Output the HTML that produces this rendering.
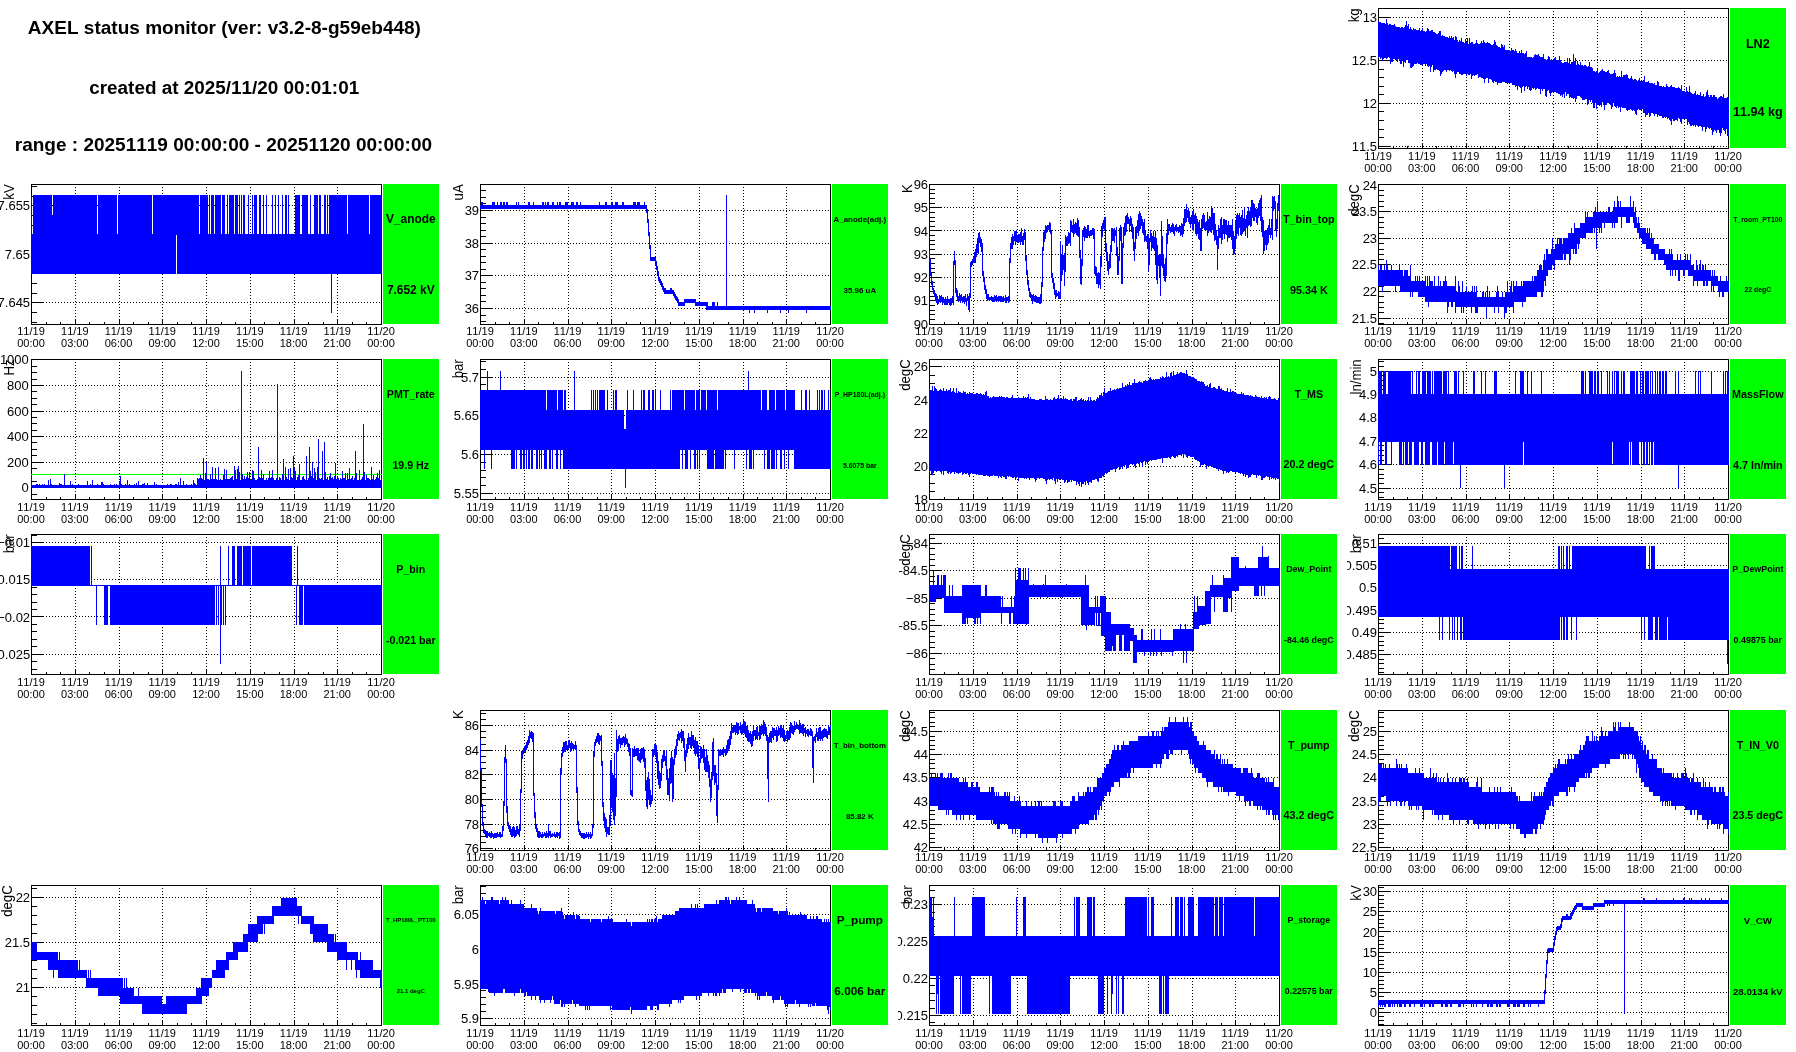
<!DOCTYPE html>
<html><head><meta charset="utf-8"><title>AXEL status monitor</title>
<style>html,body{margin:0;padding:0;background:#fff}svg{display:block;will-change:transform}text{font-family:"Liberation Sans",sans-serif;font-kerning:none}</style></head><body>
<svg width="1796" height="1052" viewBox="0 0 1796 1052">
<rect width="1796" height="1052" fill="#fff"/>
<defs><clipPath id="cp0"><rect x="0" y="0" width="449" height="1052"/></clipPath><clipPath id="cp1"><rect x="449" y="0" width="449" height="1052"/></clipPath><clipPath id="cp2"><rect x="898" y="0" width="449" height="1052"/></clipPath><clipPath id="cp3"><rect x="1347" y="0" width="449" height="1052"/></clipPath></defs>
<g font-weight="bold" font-size="18.9" text-anchor="middle" fill="#000"><text x="224.4" y="33.8" font-size="19.02">AXEL status monitor (ver: v3.2-8-g59eb448)</text><text x="224.2" y="93.8">created at 2025/11/20 00:01:01</text><text x="223.4" y="150.8" font-size="19.0">range : 20251119 00:00:00 - 20251120 00:00:00</text></g>
<g><path d="M1422.5 8V148M1466.5 8V148M1509.5 8V148M1553.5 8V148M1597.5 8V148M1641.5 8V148M1684.5 8V148" stroke="#000" stroke-width="1" stroke-dasharray="1 2" fill="none" shape-rendering="crispEdges"/><path d="M1378 17.5H1728M1378 60.5H1728M1378 103.5H1728M1378 146.5H1728" stroke="#000" stroke-width="1" stroke-dasharray="1 2" fill="none" shape-rendering="crispEdges"/><path d="M1378.5 143V148M1393.5 146V148M1407.5 146V148M1422.5 143V148M1436.5 146V148M1451.5 146V148M1466.5 143V148M1480.5 146V148M1495.5 146V148M1509.5 143V148M1524.5 146V148M1538.5 146V148M1553.5 143V148M1568.5 146V148M1582.5 146V148M1597.5 143V148M1611.5 146V148M1626.5 146V148M1641.5 143V148M1655.5 146V148M1670.5 146V148M1684.5 143V148M1699.5 146V148M1713.5 146V148M1728.5 143V148M1379 17.5H1391M1379 60.5H1391M1379 103.5H1391M1379 146.5H1391M1379 137.5H1384M1379 129.5H1384M1379 120.5H1384M1379 111.5H1384M1379 94.5H1384M1379 86.5H1384M1379 77.5H1384M1379 69.5H1384M1379 51.5H1384M1379 43.5H1384M1379 34.5H1384M1379 26.5H1384" stroke="#000" stroke-width="1" fill="none" shape-rendering="crispEdges"/><rect x="1378.5" y="8.5" width="350" height="140" fill="none" stroke="#000" stroke-width="1" shape-rendering="crispEdges"/><path d="M1386 19h1v40h-1zM1378 21h1v37h-1zM1406 21h1v39h-1zM1379 22h1v35h-1zM1380 22h1v37h-1zM1381 23h1v35h-1zM1384 23h1v35h-1zM1387 23h1v35h-1zM1383 23h1v36h-1zM1382 23h1v38h-1zM1385 24h1v34h-1zM1389 24h1v34h-1zM1394 24h1v35h-1zM1408 24h1v39h-1zM1390 24h1v40h-1zM1388 25h1v32h-1zM1393 25h1v34h-1zM1391 25h2v37h-2zM1405 25h1v38h-1zM1395 26h1v34h-1zM1407 26h1v34h-1zM1398 27h1v32h-1zM1396 27h1v33h-1zM1399 27h1v33h-1zM1402 27h1v34h-1zM1397 27h1v35h-1zM1404 27h1v35h-1zM1401 27h1v37h-1zM1410 27h1v41h-1zM1400 28h1v36h-1zM1419 28h1v36h-1zM1422 28h1v37h-1zM1413 28h1v38h-1zM1427 28h1v38h-1zM1403 28h1v39h-1zM1409 29h1v34h-1zM1414 29h2v35h-2zM1428 29h1v38h-1zM1411 29h1v39h-1zM1417 30h1v33h-1zM1416 30h1v34h-1zM1418 30h1v34h-1zM1421 30h1v35h-1zM1432 30h1v35h-1zM1412 30h1v37h-1zM1431 30h1v37h-1zM1423 31h2v33h-2zM1426 31h1v33h-1zM1420 31h1v34h-1zM1429 31h1v35h-1zM1439 31h1v40h-1zM1430 31h1v41h-1zM1440 31h1v45h-1zM1425 32h1v34h-1zM1434 32h1v38h-1zM1433 32h1v40h-1zM1435 33h1v37h-1zM1438 33h1v37h-1zM1436 34h1v35h-1zM1437 34h1v36h-1zM1442 35h1v37h-1zM1444 36h1v34h-1zM1443 36h1v35h-1zM1449 36h1v35h-1zM1451 36h1v35h-1zM1441 36h1v38h-1zM1455 36h1v42h-1zM1445 37h1v33h-1zM1447 37h1v33h-1zM1453 37h1v34h-1zM1446 37h1v35h-1zM1456 37h1v37h-1zM1448 38h1v32h-1zM1450 38h1v32h-1zM1452 38h1v34h-1zM1467 38h1v36h-1zM1461 38h1v37h-1zM1469 38h1v37h-1zM1465 39h1v35h-1zM1457 40h1v32h-1zM1454 40h1v34h-1zM1459 40h1v34h-1zM1476 40h1v35h-1zM1483 40h1v39h-1zM1494 40h1v41h-1zM1460 41h1v33h-1zM1481 41h1v37h-1zM1458 42h1v30h-1zM1463 42h1v32h-1zM1462 42h1v33h-1zM1466 42h1v34h-1zM1472 42h1v34h-1zM1487 42h1v36h-1zM1471 42h1v37h-1zM1495 42h1v40h-1zM1484 42h1v41h-1zM1464 43h1v31h-1zM1470 43h1v31h-1zM1477 43h1v31h-1zM1475 43h1v32h-1zM1480 43h1v34h-1zM1482 43h1v35h-1zM1486 43h1v35h-1zM1485 43h1v36h-1zM1489 43h1v36h-1zM1488 43h1v40h-1zM1468 44h1v31h-1zM1473 44h1v31h-1zM1474 44h1v32h-1zM1479 44h1v33h-1zM1478 44h1v34h-1zM1490 44h1v35h-1zM1493 44h1v39h-1zM1501 44h1v39h-1zM1491 45h1v35h-1zM1492 45h1v37h-1zM1496 45h1v37h-1zM1502 45h1v37h-1zM1504 45h1v37h-1zM1497 46h1v39h-1zM1503 47h1v35h-1zM1498 47h2v36h-2zM1500 48h1v35h-1zM1511 48h1v35h-1zM1515 49h1v38h-1zM1505 50h2v33h-2zM1508 50h2v33h-2zM1507 50h1v34h-1zM1512 50h2v35h-2zM1521 50h1v43h-1zM1510 51h1v32h-1zM1514 51h1v34h-1zM1516 51h1v35h-1zM1526 51h1v35h-1zM1519 51h1v36h-1zM1518 53h1v33h-1zM1523 53h1v33h-1zM1522 53h1v34h-1zM1525 53h1v34h-1zM1520 53h1v35h-1zM1517 53h1v37h-1zM1538 54h1v35h-1zM1543 54h1v35h-1zM1535 54h1v36h-1zM1524 54h1v37h-1zM1573 54h1v45h-1zM1534 55h1v33h-1zM1537 55h1v33h-1zM1536 55h1v34h-1zM1539 56h1v33h-1zM1548 56h1v34h-1zM1559 56h1v38h-1zM1528 57h1v30h-1zM1527 57h1v32h-1zM1533 57h1v32h-1zM1541 57h1v32h-1zM1529 57h1v33h-1zM1531 57h1v33h-1zM1530 57h1v34h-1zM1542 57h1v34h-1zM1555 57h1v35h-1zM1549 57h1v36h-1zM1540 57h1v37h-1zM1532 58h1v30h-1zM1554 58h1v34h-1zM1567 58h1v36h-1zM1569 58h1v40h-1zM1575 58h1v44h-1zM1544 59h1v30h-1zM1547 59h1v32h-1zM1551 59h1v34h-1zM1545 59h1v37h-1zM1552 60h2v32h-2zM1556 60h2v33h-2zM1558 60h1v34h-1zM1550 60h1v36h-1zM1560 60h1v36h-1zM1546 60h1v37h-1zM1577 61h1v35h-1zM1574 61h1v37h-1zM1565 62h1v30h-1zM1561 62h1v33h-1zM1566 62h1v34h-1zM1580 62h1v35h-1zM1564 62h1v36h-1zM1571 62h2v36h-2zM1589 62h1v38h-1zM1563 63h1v31h-1zM1568 63h1v31h-1zM1562 63h1v34h-1zM1578 64h1v32h-1zM1570 64h1v33h-1zM1579 65h1v31h-1zM1581 65h1v33h-1zM1576 65h1v34h-1zM1585 65h1v34h-1zM1582 65h1v35h-1zM1584 65h1v35h-1zM1586 66h1v33h-1zM1583 66h1v34h-1zM1588 66h1v37h-1zM1591 67h1v33h-1zM1590 67h1v35h-1zM1587 67h1v38h-1zM1592 68h1v35h-1zM1602 69h1v33h-1zM1597 69h1v35h-1zM1608 70h1v33h-1zM1614 70h1v36h-1zM1601 70h1v37h-1zM1607 71h1v32h-1zM1600 71h1v34h-1zM1603 71h1v34h-1zM1621 71h1v36h-1zM1593 71h2v37h-2zM1596 71h1v38h-1zM1604 71h1v39h-1zM1595 72h1v31h-1zM1605 72h2v33h-2zM1599 72h1v34h-1zM1609 73h1v30h-1zM1613 73h1v30h-1zM1598 73h1v32h-1zM1615 73h1v34h-1zM1610 74h1v31h-1zM1612 74h1v33h-1zM1611 74h1v35h-1zM1626 74h1v36h-1zM1623 75h3v33h-3zM1627 75h1v36h-1zM1617 76h1v30h-1zM1619 76h1v31h-1zM1631 76h1v34h-1zM1644 76h1v37h-1zM1616 77h1v31h-1zM1618 77h1v31h-1zM1622 77h1v31h-1zM1620 77h1v35h-1zM1630 78h1v31h-1zM1628 78h1v32h-1zM1639 78h1v32h-1zM1629 79h1v31h-1zM1632 79h1v32h-1zM1634 79h1v32h-1zM1635 79h1v35h-1zM1638 80h1v29h-1zM1633 80h1v30h-1zM1643 80h1v33h-1zM1636 80h1v35h-1zM1642 81h1v28h-1zM1637 81h1v29h-1zM1640 81h2v29h-2zM1648 81h1v32h-1zM1657 81h1v36h-1zM1646 82h2v33h-2zM1658 82h1v33h-1zM1645 82h1v35h-1zM1651 83h2v30h-2zM1650 83h1v33h-1zM1654 83h1v33h-1zM1649 83h1v34h-1zM1653 84h1v30h-1zM1666 84h1v33h-1zM1655 85h2v29h-2zM1681 85h1v39h-1zM1671 85h1v40h-1zM1659 86h3v30h-3zM1663 86h1v32h-1zM1667 86h1v33h-1zM1670 86h1v35h-1zM1689 86h1v38h-1zM1664 87h1v30h-1zM1662 87h1v31h-1zM1665 87h1v31h-1zM1668 87h1v31h-1zM1678 87h1v31h-1zM1672 87h1v32h-1zM1686 87h1v32h-1zM1669 87h1v33h-1zM1673 87h2v34h-2zM1679 88h1v31h-1zM1675 88h2v32h-2zM1677 88h1v33h-1zM1680 89h1v33h-1zM1707 90h1v37h-1zM1682 91h3v28h-3zM1687 91h1v34h-1zM1695 91h1v36h-1zM1685 92h1v27h-1zM1688 92h1v30h-1zM1690 92h1v34h-1zM1700 92h1v34h-1zM1706 92h1v37h-1zM1694 93h1v32h-1zM1691 93h1v33h-1zM1692 94h1v31h-1zM1693 94h1v32h-1zM1697 94h1v32h-1zM1703 94h1v33h-1zM1723 94h1v36h-1zM1696 95h1v30h-1zM1699 95h1v31h-1zM1698 95h1v32h-1zM1708 95h1v33h-1zM1710 95h1v33h-1zM1711 95h1v35h-1zM1714 95h1v35h-1zM1713 95h1v37h-1zM1701 96h1v31h-1zM1702 96h1v35h-1zM1705 96h1v36h-1zM1721 96h1v37h-1zM1720 96h1v40h-1zM1704 97h1v30h-1zM1722 97h1v31h-1zM1709 97h1v32h-1zM1715 97h1v34h-1zM1716 97h1v36h-1zM1719 97h1v36h-1zM1712 97h1v38h-1zM1727 97h1v39h-1zM1726 98h1v31h-1zM1718 98h1v32h-1zM1724 98h1v33h-1zM1725 98h1v36h-1zM1728 98h1v38h-1zM1717 99h1v31h-1z" fill="#00f" shape-rendering="crispEdges"/><g font-size="11.00" text-anchor="middle" fill="#000"><text x="1378.0" y="160">11/19</text><text x="1378.0" y="172">00:00</text><text x="1421.8" y="160">11/19</text><text x="1421.8" y="172">03:00</text><text x="1465.5" y="160">11/19</text><text x="1465.5" y="172">06:00</text><text x="1509.2" y="160">11/19</text><text x="1509.2" y="172">09:00</text><text x="1553.0" y="160">11/19</text><text x="1553.0" y="172">12:00</text><text x="1596.8" y="160">11/19</text><text x="1596.8" y="172">15:00</text><text x="1640.5" y="160">11/19</text><text x="1640.5" y="172">18:00</text><text x="1684.2" y="160">11/19</text><text x="1684.2" y="172">21:00</text><text x="1728.0" y="160">11/20</text><text x="1728.0" y="172">00:00</text></g><g font-size="13.00" text-anchor="end" fill="#000" clip-path="url(#cp3)"><text x="1377.1" y="22.0">13</text><text x="1377.1" y="64.9">12.5</text><text x="1377.1" y="107.8">12</text><text x="1377.1" y="150.7">11.5</text></g><text transform="translate(1359.3 8.3) rotate(-90) scale(1 1.07)" font-size="13.20" text-anchor="end" fill="#000">kg</text><rect x="1730" y="8" width="56" height="140" fill="#0f0" shape-rendering="crispEdges"/><g font-size="12.62" font-weight="bold" text-anchor="middle" fill="#000"><text x="1757.8" y="48.3">LN2</text><text x="1757.8" y="116.0">11.94 kg</text></g></g>
<g><path d="M75.5 184V324M119.5 184V324M162.5 184V324M206.5 184V324M250.5 184V324M294.5 184V324M337.5 184V324" stroke="#000" stroke-width="1" stroke-dasharray="1 2" fill="none" shape-rendering="crispEdges"/><path d="M31 205.5H381M31 254.5H381M31 302.5H381" stroke="#000" stroke-width="1" stroke-dasharray="1 2" fill="none" shape-rendering="crispEdges"/><path d="M31.5 319V324M46.5 322V324M60.5 322V324M75.5 319V324M89.5 322V324M104.5 322V324M119.5 319V324M133.5 322V324M148.5 322V324M162.5 319V324M177.5 322V324M191.5 322V324M206.5 319V324M221.5 322V324M235.5 322V324M250.5 319V324M264.5 322V324M279.5 322V324M294.5 319V324M308.5 322V324M323.5 322V324M337.5 319V324M352.5 322V324M366.5 322V324M381.5 319V324M32 205.5H44M32 254.5H44M32 302.5H44M32 322.5H37M32 312.5H37M32 293.5H37M32 283.5H37M32 273.5H37M32 264.5H37M32 244.5H37M32 234.5H37M32 225.5H37M32 215.5H37M32 196.5H37M32 186.5H37" stroke="#000" stroke-width="1" fill="none" shape-rendering="crispEdges"/><rect x="31.5" y="184.5" width="350" height="140" fill="none" stroke="#000" stroke-width="1" shape-rendering="crispEdges"/><path d="M176 195h1v40h-1zM31 195h1v79h-1zM33 195h19v79h-19zM53 195h44v79h-44zM98 195h19v79h-19zM118 195h34v79h-34zM153 195h23v79h-23zM177 195h22v79h-22zM200 195h8v79h-8zM209 195h1v79h-1zM211 195h3v79h-3zM215 195h6v79h-6zM222 195h3v79h-3zM227 195h1v79h-1zM229 195h5v79h-5zM235 195h3v79h-3zM239 195h1v79h-1zM241 195h1v79h-1zM243 195h2v79h-2zM248 195h1v79h-1zM252 195h1v79h-1zM254 195h3v79h-3zM259 195h2v79h-2zM263 195h1v79h-1zM266 195h1v79h-1zM272 195h1v79h-1zM275 195h1v79h-1zM278 195h1v79h-1zM282 195h1v79h-1zM285 195h2v79h-2zM288 195h1v79h-1zM295 195h5v79h-5zM302 195h6v79h-6zM310 195h1v79h-1zM314 195h4v79h-4zM319 195h2v79h-2zM324 195h2v79h-2zM327 195h1v79h-1zM329 195h18v79h-18zM348 195h21v79h-21zM370 195h12v79h-12zM52 215h1v59h-1zM32 234h1v40h-1zM97 234h1v40h-1zM117 234h1v40h-1zM152 234h1v40h-1zM199 234h1v40h-1zM208 234h1v40h-1zM210 234h1v40h-1zM214 234h1v40h-1zM221 234h1v40h-1zM225 234h2v40h-2zM228 234h1v40h-1zM234 234h1v40h-1zM238 234h1v40h-1zM240 234h1v40h-1zM242 234h1v40h-1zM245 234h3v40h-3zM249 234h3v40h-3zM253 234h1v40h-1zM257 234h2v40h-2zM261 234h2v40h-2zM264 234h2v40h-2zM267 234h5v40h-5zM273 234h2v40h-2zM276 234h2v40h-2zM279 234h3v40h-3zM283 234h2v40h-2zM287 234h1v40h-1zM289 234h6v40h-6zM300 234h2v40h-2zM308 234h2v40h-2zM311 234h3v40h-3zM318 234h1v40h-1zM321 234h3v40h-3zM326 234h1v40h-1zM328 234h1v40h-1zM347 234h1v40h-1zM369 234h1v40h-1zM331 274h1v39h-1z" fill="#00f" shape-rendering="crispEdges"/><g font-size="11.00" text-anchor="middle" fill="#000"><text x="31.0" y="335">11/19</text><text x="31.0" y="347">00:00</text><text x="74.8" y="335">11/19</text><text x="74.8" y="347">03:00</text><text x="118.5" y="335">11/19</text><text x="118.5" y="347">06:00</text><text x="162.2" y="335">11/19</text><text x="162.2" y="347">09:00</text><text x="206.0" y="335">11/19</text><text x="206.0" y="347">12:00</text><text x="249.8" y="335">11/19</text><text x="249.8" y="347">15:00</text><text x="293.5" y="335">11/19</text><text x="293.5" y="347">18:00</text><text x="337.2" y="335">11/19</text><text x="337.2" y="347">21:00</text><text x="381.0" y="335">11/20</text><text x="381.0" y="347">00:00</text></g><g font-size="13.00" text-anchor="end" fill="#000" clip-path="url(#cp0)"><text x="30.1" y="210.3">7.655</text><text x="30.1" y="258.8">7.65</text><text x="30.1" y="307.3">7.645</text></g><text transform="translate(14.0 184.3) rotate(-90) scale(1 1.07)" font-size="13.20" text-anchor="end" fill="#000">kV</text><rect x="383" y="184" width="56" height="140" fill="#0f0" shape-rendering="crispEdges"/><g font-size="11.94" font-weight="bold" text-anchor="middle" fill="#000"><text x="410.8" y="223.3">V_anode</text><text x="410.8" y="294.3">7.652 kV</text></g></g>
<g><path d="M524.5 184V324M568.5 184V324M611.5 184V324M655.5 184V324M699.5 184V324M743.5 184V324M786.5 184V324" stroke="#000" stroke-width="1" stroke-dasharray="1 2" fill="none" shape-rendering="crispEdges"/><path d="M480 210.5H830M480 243.5H830M480 275.5H830M480 308.5H830" stroke="#000" stroke-width="1" stroke-dasharray="1 2" fill="none" shape-rendering="crispEdges"/><path d="M480.5 319V324M495.5 322V324M509.5 322V324M524.5 319V324M538.5 322V324M553.5 322V324M568.5 319V324M582.5 322V324M597.5 322V324M611.5 319V324M626.5 322V324M640.5 322V324M655.5 319V324M670.5 322V324M684.5 322V324M699.5 319V324M713.5 322V324M728.5 322V324M743.5 319V324M757.5 322V324M772.5 322V324M786.5 319V324M801.5 322V324M815.5 322V324M830.5 319V324M481 210.5H493M481 243.5H493M481 275.5H493M481 308.5H493M481 321.5H486M481 315.5H486M481 301.5H486M481 295.5H486M481 288.5H486M481 282.5H486M481 269.5H486M481 262.5H486M481 256.5H486M481 249.5H486M481 236.5H486M481 230.5H486M481 223.5H486M481 217.5H486M481 203.5H486M481 197.5H486M481 190.5H486" stroke="#000" stroke-width="1" fill="none" shape-rendering="crispEdges"/><rect x="480.5" y="184.5" width="350" height="140" fill="none" stroke="#000" stroke-width="1" shape-rendering="crispEdges"/><path d="M726 195h1v114h-1zM481 202h2v7h-2zM492 202h3v7h-3zM497 202h1v7h-1zM500 202h2v7h-2zM503 202h2v7h-2zM506 202h2v7h-2zM516 202h1v7h-1zM518 202h1v7h-1zM528 202h2v7h-2zM533 202h1v7h-1zM542 202h2v7h-2zM545 202h1v7h-1zM547 202h2v7h-2zM552 202h2v7h-2zM557 202h1v7h-1zM559 202h2v7h-2zM565 202h3v7h-3zM571 202h3v7h-3zM576 202h2v7h-2zM580 202h1v7h-1zM599 202h1v7h-1zM605 202h2v7h-2zM611 202h2v7h-2zM615 202h3v7h-3zM622 202h2v7h-2zM633 202h3v7h-3zM637 202h3v7h-3zM644 202h1v7h-1zM480 205h1v4h-1zM483 205h9v4h-9zM495 205h2v4h-2zM498 205h2v4h-2zM502 205h1v4h-1zM505 205h1v4h-1zM508 205h8v4h-8zM517 205h1v4h-1zM519 205h9v4h-9zM530 205h3v4h-3zM534 205h8v4h-8zM544 205h1v4h-1zM546 205h1v4h-1zM549 205h3v4h-3zM554 205h3v4h-3zM558 205h1v4h-1zM561 205h4v4h-4zM568 205h3v4h-3zM574 205h2v4h-2zM578 205h2v4h-2zM581 205h18v4h-18zM600 205h5v4h-5zM607 205h4v4h-4zM613 205h2v4h-2zM618 205h4v4h-4zM624 205h9v4h-9zM636 205h1v4h-1zM640 205h4v4h-4zM645 205h1v4h-1zM646 205h1v8h-1zM647 209h1v14h-1zM648 219h1v17h-1zM649 232h1v17h-1zM650 245h1v16h-1zM651 257h4v4h-4zM655 257h1v8h-1zM656 261h1v9h-1zM657 266h1v9h-1zM658 271h1v10h-1zM659 277h1v6h-1zM660 279h1v6h-1zM661 281h1v6h-1zM662 283h1v7h-1zM663 286h1v6h-1zM664 288h2v6h-2zM670 288h2v6h-2zM666 290h4v4h-4zM672 290h1v4h-1zM673 290h1v6h-1zM674 292h1v6h-1zM675 294h1v6h-1zM676 296h1v5h-1zM677 297h1v6h-1zM685 299h10v4h-10zM678 299h1v7h-1zM684 299h1v7h-1zM695 299h1v7h-1zM679 302h5v4h-5zM696 302h10v4h-10zM706 302h2v8h-2zM712 302h3v8h-3zM717 302h1v8h-1zM708 306h4v4h-4zM715 306h2v4h-2zM718 306h31v4h-31zM750 306h4v4h-4zM755 306h12v4h-12zM768 306h12v4h-12zM781 306h7v4h-7zM789 306h17v4h-17zM807 306h24v4h-24zM749 306h1v7h-1zM754 306h1v7h-1zM767 306h1v7h-1zM780 306h1v7h-1zM788 306h1v7h-1zM806 306h1v7h-1z" fill="#00f" shape-rendering="crispEdges"/><g font-size="11.00" text-anchor="middle" fill="#000"><text x="480.0" y="335">11/19</text><text x="480.0" y="347">00:00</text><text x="523.8" y="335">11/19</text><text x="523.8" y="347">03:00</text><text x="567.5" y="335">11/19</text><text x="567.5" y="347">06:00</text><text x="611.2" y="335">11/19</text><text x="611.2" y="347">09:00</text><text x="655.0" y="335">11/19</text><text x="655.0" y="347">12:00</text><text x="698.8" y="335">11/19</text><text x="698.8" y="347">15:00</text><text x="742.5" y="335">11/19</text><text x="742.5" y="347">18:00</text><text x="786.2" y="335">11/19</text><text x="786.2" y="347">21:00</text><text x="830.0" y="335">11/20</text><text x="830.0" y="347">00:00</text></g><g font-size="13.00" text-anchor="end" fill="#000" clip-path="url(#cp1)"><text x="479.1" y="215.0">39</text><text x="479.1" y="247.7">38</text><text x="479.1" y="280.3">37</text><text x="479.1" y="313.0">36</text></g><text transform="translate(463.0 184.3) rotate(-90) scale(1 1.07)" font-size="13.20" text-anchor="end" fill="#000">uA</text><rect x="832" y="184" width="56" height="140" fill="#0f0" shape-rendering="crispEdges"/><g font-size="7.94" font-weight="bold" text-anchor="middle" fill="#000"><text x="859.8" y="221.8">A_anode(adj.)</text><text x="859.8" y="292.8">35.96 uA</text></g></g>
<g><path d="M973.5 184V324M1017.5 184V324M1060.5 184V324M1104.5 184V324M1148.5 184V324M1192.5 184V324M1235.5 184V324" stroke="#000" stroke-width="1" stroke-dasharray="1 2" fill="none" shape-rendering="crispEdges"/><path d="M929 207.5H1279M929 230.5H1279M929 254.5H1279M929 277.5H1279M929 300.5H1279" stroke="#000" stroke-width="1" stroke-dasharray="1 2" fill="none" shape-rendering="crispEdges"/><path d="M929.5 319V324M944.5 322V324M958.5 322V324M973.5 319V324M987.5 322V324M1002.5 322V324M1017.5 319V324M1031.5 322V324M1046.5 322V324M1060.5 319V324M1075.5 322V324M1089.5 322V324M1104.5 319V324M1119.5 322V324M1133.5 322V324M1148.5 319V324M1162.5 322V324M1177.5 322V324M1192.5 319V324M1206.5 322V324M1221.5 322V324M1235.5 319V324M1250.5 322V324M1264.5 322V324M1279.5 319V324M930 207.5H942M930 230.5H942M930 254.5H942M930 277.5H942M930 300.5H942M930 319.5H935M930 314.5H935M930 310.5H935M930 305.5H935M930 296.5H935M930 291.5H935M930 286.5H935M930 282.5H935M930 272.5H935M930 268.5H935M930 263.5H935M930 258.5H935M930 249.5H935M930 244.5H935M930 240.5H935M930 235.5H935M930 226.5H935M930 221.5H935M930 217.5H935M930 212.5H935M930 203.5H935M930 198.5H935M930 193.5H935M930 189.5H935" stroke="#000" stroke-width="1" fill="none" shape-rendering="crispEdges"/><rect x="929.5" y="184.5" width="350" height="140" fill="none" stroke="#000" stroke-width="1" shape-rendering="crispEdges"/><path d="M1278 195h1v16h-1zM1261 195h1v37h-1zM1274 196h1v13h-1zM1272 196h1v44h-1zM1273 197h1v14h-1zM1279 198h1v19h-1zM1260 198h1v23h-1zM1259 200h1v16h-1zM1252 200h1v18h-1zM1251 200h1v26h-1zM1275 201h1v30h-1zM1258 203h1v15h-1zM1253 203h1v18h-1zM1277 203h1v26h-1zM1254 204h1v17h-1zM1186 204h1v18h-1zM1211 206h1v27h-1zM1248 207h1v19h-1zM1250 207h1v20h-1zM1244 207h1v23h-1zM1255 208h1v9h-1zM1188 208h1v14h-1zM1257 208h1v17h-1zM1212 208h1v22h-1zM1185 209h1v14h-1zM1256 209h1v14h-1zM1184 209h1v17h-1zM1193 209h1v22h-1zM1187 210h1v8h-1zM1242 210h1v24h-1zM1189 211h1v13h-1zM1249 211h1v14h-1zM1192 211h1v19h-1zM1139 211h1v20h-1zM1247 211h1v27h-1zM1207 212h1v24h-1zM1127 213h1v11h-1zM1203 213h1v15h-1zM1239 213h1v15h-1zM1140 213h1v16h-1zM1195 213h1v21h-1zM1237 213h1v21h-1zM1213 213h1v22h-1zM1214 213h1v28h-1zM1138 214h1v22h-1zM1191 215h1v9h-1zM1194 215h1v9h-1zM1246 215h1v13h-1zM1202 215h1v14h-1zM1204 215h1v15h-1zM1126 215h1v17h-1zM1238 215h1v21h-1zM1241 215h1v21h-1zM1236 215h1v24h-1zM1130 216h1v10h-1zM1141 216h1v10h-1zM1209 216h1v15h-1zM1125 216h1v19h-1zM1196 216h1v20h-1zM1128 217h1v7h-1zM1190 217h1v11h-1zM1104 217h1v14h-1zM1210 217h1v15h-1zM1240 217h1v18h-1zM1262 217h1v20h-1zM1221 217h1v27h-1zM1105 217h1v35h-1zM1131 218h1v14h-1zM1243 218h1v14h-1zM1183 218h1v16h-1zM1077 218h1v18h-1zM1129 219h1v13h-1zM1142 219h1v14h-1zM1208 219h1v14h-1zM1197 219h1v15h-1zM1223 219h1v15h-1zM1269 219h1v16h-1zM1271 219h1v16h-1zM1245 219h1v17h-1zM1073 219h1v18h-1zM1276 219h1v18h-1zM1220 219h1v19h-1zM1224 219h1v20h-1zM1144 219h1v23h-1zM1167 219h1v25h-1zM1232 219h1v30h-1zM1201 219h1v32h-1zM1103 220h1v9h-1zM1137 220h1v13h-1zM1225 220h1v14h-1zM1226 220h1v15h-1zM1078 220h1v17h-1zM1199 220h1v20h-1zM1070 220h1v26h-1zM1235 220h1v29h-1zM1263 220h1v34h-1zM1206 221h1v9h-1zM1071 221h1v11h-1zM1228 221h1v17h-1zM1161 221h1v45h-1zM1205 222h1v9h-1zM1049 222h1v10h-1zM1075 222h1v11h-1zM1143 222h1v13h-1zM1198 222h1v17h-1zM1172 223h1v9h-1zM1050 223h1v11h-1zM1076 223h1v12h-1zM1181 223h1v12h-1zM1124 223h1v13h-1zM1102 223h1v14h-1zM1169 224h1v7h-1zM1176 224h1v8h-1zM1074 224h1v10h-1zM1173 224h1v10h-1zM1168 224h1v11h-1zM1182 224h1v13h-1zM1132 224h1v15h-1zM1215 224h1v16h-1zM1048 225h1v5h-1zM1175 225h1v6h-1zM1047 225h1v7h-1zM1171 225h1v7h-1zM1179 225h1v7h-1zM1072 225h1v8h-1zM1088 225h1v11h-1zM1230 225h1v12h-1zM1087 225h1v13h-1zM1229 225h1v13h-1zM1045 225h1v14h-1zM1222 225h1v15h-1zM1231 225h1v15h-1zM1120 225h1v16h-1zM1227 225h1v17h-1zM1268 225h1v18h-1zM1218 225h1v24h-1zM1046 226h1v7h-1zM1180 226h1v10h-1zM1136 226h1v13h-1zM1084 226h1v15h-1zM1101 226h1v41h-1zM1177 227h1v4h-1zM1170 227h1v6h-1zM1178 227h1v6h-1zM1174 227h1v9h-1zM1085 227h1v11h-1zM1123 227h1v21h-1zM1135 227h1v22h-1zM1133 227h1v24h-1zM1116 227h1v29h-1zM1079 227h1v31h-1zM1121 227h1v57h-1zM1092 228h1v7h-1zM1083 228h1v9h-1zM1219 228h1v10h-1zM1270 228h1v10h-1zM1093 228h1v11h-1zM1112 228h1v13h-1zM1021 228h1v14h-1zM1114 228h1v15h-1zM1267 228h1v17h-1zM1200 228h1v23h-1zM1111 228h1v24h-1zM1119 228h1v33h-1zM1086 229h1v9h-1zM1024 229h1v11h-1zM1113 229h1v12h-1zM1094 229h1v45h-1zM1090 230h1v6h-1zM1115 230h1v6h-1zM1016 230h1v12h-1zM1044 230h1v12h-1zM1150 230h1v12h-1zM1216 230h1v15h-1zM1265 230h1v15h-1zM1266 230h1v20h-1zM1082 230h1v36h-1zM1051 230h1v48h-1zM1091 231h1v5h-1zM1089 231h1v7h-1zM1014 231h1v10h-1zM1145 231h1v10h-1zM1015 231h1v14h-1zM1153 231h1v18h-1zM1264 231h1v20h-1zM1233 231h1v24h-1zM1155 231h1v34h-1zM979 232h1v11h-1zM1068 232h1v12h-1zM1020 232h1v13h-1zM1043 232h1v19h-1zM1025 232h1v29h-1zM1069 233h1v10h-1zM1023 233h1v12h-1zM1151 233h1v18h-1zM978 233h1v21h-1zM1166 233h1v43h-1zM1019 234h1v8h-1zM1018 234h1v9h-1zM1012 234h1v15h-1zM1147 234h1v15h-1zM1148 234h1v37h-1zM1017 235h1v8h-1zM1065 235h1v37h-1zM1146 236h1v6h-1zM1013 236h1v9h-1zM1022 236h1v9h-1zM1067 236h1v10h-1zM1152 236h1v12h-1zM1234 236h1v18h-1zM1162 236h1v32h-1zM1217 236h1v34h-1zM1066 237h1v9h-1zM980 237h1v10h-1zM1011 237h1v12h-1zM1154 237h1v14h-1zM977 238h1v15h-1zM1149 238h1v27h-1zM1156 238h1v42h-1zM981 239h1v13h-1zM1060 241h1v58h-1zM1134 242h1v19h-1zM1106 243h1v18h-1zM1010 243h1v20h-1zM982 243h1v33h-1zM1122 243h1v41h-1zM976 244h1v13h-1zM1110 245h1v23h-1zM1062 245h1v30h-1zM1157 245h1v39h-1zM1117 247h1v28h-1zM1042 247h1v40h-1zM975 249h1v14h-1zM1080 250h1v34h-1zM929 251h1v12h-1zM954 251h1v14h-1zM974 252h1v11h-1zM1107 252h1v19h-1zM1064 253h1v33h-1zM1163 254h1v22h-1zM1159 254h1v24h-1zM1160 254h1v42h-1zM1158 255h1v11h-1zM1109 255h1v14h-1zM1063 255h1v15h-1zM1026 255h1v20h-1zM1061 255h1v26h-1zM1118 256h1v19h-1zM1100 256h1v33h-1zM973 257h1v6h-1zM1165 258h1v24h-1zM1009 258h1v44h-1zM972 259h1v6h-1zM930 259h1v17h-1zM1081 259h1v26h-1zM955 260h1v33h-1zM971 261h1v6h-1zM1108 261h1v14h-1zM953 261h1v44h-1zM970 262h1v36h-1zM1164 264h1v17h-1zM1095 266h1v10h-1zM1096 267h1v17h-1zM1027 270h1v15h-1zM983 271h1v11h-1zM931 272h1v13h-1zM1098 272h1v16h-1zM1052 273h1v10h-1zM1097 273h1v11h-1zM1099 273h1v12h-1zM984 277h1v13h-1zM1053 278h1v11h-1zM1028 280h1v11h-1zM932 281h1v9h-1zM1041 282h1v21h-1zM1054 283h1v12h-1zM985 285h1v9h-1zM933 288h1v6h-1zM956 288h1v9h-1zM1029 288h1v9h-1zM986 289h1v10h-1zM934 290h1v7h-1zM1056 290h1v7h-1zM1055 290h1v9h-1zM957 290h1v11h-1zM1058 291h1v8h-1zM1030 292h1v6h-1zM1059 292h1v7h-1zM1057 293h1v3h-1zM935 293h1v7h-1zM959 293h1v8h-1zM969 293h1v19h-1zM988 294h1v6h-1zM1031 294h1v6h-1zM961 294h1v7h-1zM967 294h1v7h-1zM987 294h1v7h-1zM1033 294h1v7h-1zM965 294h1v8h-1zM936 294h1v9h-1zM1040 294h1v10h-1zM939 295h1v7h-1zM941 295h1v7h-1zM994 295h1v7h-1zM996 295h1v7h-1zM1035 295h1v7h-1zM960 295h1v8h-1zM1005 295h1v8h-1zM1032 295h1v9h-1zM991 296h1v5h-1zM995 296h1v5h-1zM999 296h1v5h-1zM958 296h1v6h-1zM963 296h1v6h-1zM998 296h1v6h-1zM1000 296h2v6h-2zM1003 296h1v6h-1zM1034 296h1v6h-1zM940 296h1v7h-1zM952 296h1v7h-1zM1008 296h1v7h-1zM1036 296h1v7h-1zM964 296h1v8h-1zM937 296h1v9h-1zM947 296h1v9h-1zM968 296h1v14h-1zM989 297h2v3h-2zM997 297h1v4h-1zM1007 297h1v4h-1zM992 297h2v5h-2zM1002 297h1v5h-1zM943 297h1v6h-1zM962 297h1v6h-1zM1006 297h1v6h-1zM1037 297h2v6h-2zM1039 297h1v7h-1zM942 297h1v8h-1zM945 297h1v8h-1zM1004 298h1v3h-1zM951 298h1v7h-1zM950 298h1v8h-1zM966 298h1v8h-1zM948 299h1v4h-1zM938 299h1v5h-1zM944 299h1v6h-1zM946 299h1v6h-1zM949 299h1v6h-1z" fill="#00f" shape-rendering="crispEdges"/><g font-size="11.00" text-anchor="middle" fill="#000"><text x="929.0" y="335">11/19</text><text x="929.0" y="347">00:00</text><text x="972.8" y="335">11/19</text><text x="972.8" y="347">03:00</text><text x="1016.5" y="335">11/19</text><text x="1016.5" y="347">06:00</text><text x="1060.2" y="335">11/19</text><text x="1060.2" y="347">09:00</text><text x="1104.0" y="335">11/19</text><text x="1104.0" y="347">12:00</text><text x="1147.8" y="335">11/19</text><text x="1147.8" y="347">15:00</text><text x="1191.5" y="335">11/19</text><text x="1191.5" y="347">18:00</text><text x="1235.2" y="335">11/19</text><text x="1235.2" y="347">21:00</text><text x="1279.0" y="335">11/20</text><text x="1279.0" y="347">00:00</text></g><g font-size="13.00" text-anchor="end" fill="#000" clip-path="url(#cp2)"><text x="928.1" y="189.0">96</text><text x="928.1" y="212.2">95</text><text x="928.1" y="235.5">94</text><text x="928.1" y="258.7">93</text><text x="928.1" y="282.0">92</text><text x="928.1" y="305.2">91</text><text x="928.1" y="328.5">90</text></g><text transform="translate(912.0 184.3) rotate(-90) scale(1 1.07)" font-size="13.20" text-anchor="end" fill="#000">K</text><rect x="1281" y="184" width="56" height="140" fill="#0f0" shape-rendering="crispEdges"/><g font-size="10.80" font-weight="bold" text-anchor="middle" fill="#000"><text x="1308.8" y="222.9">T_bin_top</text><text x="1308.8" y="293.9">95.34 K</text></g></g>
<g><path d="M1422.5 184V324M1466.5 184V324M1509.5 184V324M1553.5 184V324M1597.5 184V324M1641.5 184V324M1684.5 184V324" stroke="#000" stroke-width="1" stroke-dasharray="1 2" fill="none" shape-rendering="crispEdges"/><path d="M1378 211.5H1728M1378 238.5H1728M1378 264.5H1728M1378 291.5H1728M1378 318.5H1728" stroke="#000" stroke-width="1" stroke-dasharray="1 2" fill="none" shape-rendering="crispEdges"/><path d="M1378.5 319V324M1393.5 322V324M1407.5 322V324M1422.5 319V324M1436.5 322V324M1451.5 322V324M1466.5 319V324M1480.5 322V324M1495.5 322V324M1509.5 319V324M1524.5 322V324M1538.5 322V324M1553.5 319V324M1568.5 322V324M1582.5 322V324M1597.5 319V324M1611.5 322V324M1626.5 322V324M1641.5 319V324M1655.5 322V324M1670.5 322V324M1684.5 319V324M1699.5 322V324M1713.5 322V324M1728.5 319V324M1379 211.5H1391M1379 238.5H1391M1379 264.5H1391M1379 291.5H1391M1379 318.5H1391M1379 323.5H1384M1379 312.5H1384M1379 307.5H1384M1379 302.5H1384M1379 296.5H1384M1379 286.5H1384M1379 280.5H1384M1379 275.5H1384M1379 270.5H1384M1379 259.5H1384M1379 254.5H1384M1379 249.5H1384M1379 243.5H1384M1379 233.5H1384M1379 227.5H1384M1379 222.5H1384M1379 217.5H1384M1379 206.5H1384M1379 201.5H1384M1379 195.5H1384M1379 190.5H1384" stroke="#000" stroke-width="1" fill="none" shape-rendering="crispEdges"/><rect x="1378.5" y="184.5" width="350" height="140" fill="none" stroke="#000" stroke-width="1" shape-rendering="crispEdges"/><path d="M1630 196h1v21h-1zM1617 196h1v27h-1zM1618 201h1v16h-1zM1620 201h1v16h-1zM1633 201h1v22h-1zM1597 201h1v27h-1zM1614 201h1v27h-1zM1619 207h1v10h-1zM1622 207h4v10h-4zM1631 207h2v10h-2zM1608 207h2v16h-2zM1613 207h1v16h-1zM1615 207h2v16h-2zM1626 207h4v16h-4zM1595 207h1v21h-1zM1621 207h1v21h-1zM1635 207h1v21h-1zM1602 212h2v11h-2zM1605 212h3v11h-3zM1610 212h2v11h-2zM1593 212h1v16h-1zM1596 212h1v16h-1zM1598 212h1v16h-1zM1600 212h1v16h-1zM1604 212h1v16h-1zM1612 212h1v16h-1zM1634 212h1v16h-1zM1587 212h1v21h-1zM1594 212h1v21h-1zM1599 212h1v21h-1zM1601 212h1v21h-1zM1585 212h1v26h-1zM1636 217h1v11h-1zM1586 217h1v16h-1zM1588 217h5v16h-5zM1638 217h1v16h-1zM1596 218h1v31h-1zM1637 223h1v10h-1zM1580 223h5v15h-5zM1639 223h1v15h-1zM1574 223h1v26h-1zM1640 228h2v10h-2zM1577 228h1v16h-1zM1579 228h1v16h-1zM1642 228h4v16h-4zM1571 228h1v21h-1zM1578 228h1v21h-1zM1647 228h1v21h-1zM1649 228h1v21h-1zM1575 228h2v26h-2zM1572 233h1v16h-1zM1646 233h1v16h-1zM1648 233h1v16h-1zM1568 233h1v21h-1zM1573 233h1v21h-1zM1651 233h1v21h-1zM1570 233h1v27h-1zM1569 233h1v32h-1zM1650 238h1v11h-1zM1563 238h1v16h-1zM1566 238h2v16h-2zM1652 238h2v16h-2zM1557 238h1v22h-1zM1559 238h3v22h-3zM1564 238h2v22h-2zM1552 238h1v27h-1zM1656 244h2v10h-2zM1555 244h2v16h-2zM1558 244h1v16h-1zM1562 244h1v16h-1zM1654 244h2v16h-2zM1658 244h1v16h-1zM1659 249h5v11h-5zM1553 249h1v16h-1zM1664 249h1v16h-1zM1551 249h1v21h-1zM1554 249h1v21h-1zM1669 249h1v21h-1zM1671 249h1v21h-1zM1546 249h2v27h-2zM1665 254h1v11h-1zM1548 254h3v16h-3zM1666 254h3v16h-3zM1677 254h1v16h-1zM1680 254h1v16h-1zM1685 254h1v16h-1zM1687 254h1v16h-1zM1670 254h1v22h-1zM1672 254h1v22h-1zM1690 254h1v22h-1zM1544 254h1v27h-1zM1673 260h2v10h-2zM1676 260h1v10h-1zM1681 260h2v10h-2zM1686 260h1v10h-1zM1675 260h1v16h-1zM1683 260h2v16h-2zM1688 260h2v16h-2zM1678 260h2v21h-2zM1696 260h1v21h-1zM1700 260h1v21h-1zM1386 260h1v26h-1zM1545 260h1v26h-1zM1543 260h1v32h-1zM1691 265h2v11h-2zM1699 265h1v16h-1zM1702 265h1v16h-1zM1705 265h1v16h-1zM1378 265h1v21h-1zM1380 265h2v21h-2zM1384 265h1v21h-1zM1387 265h1v21h-1zM1391 265h1v21h-1zM1399 265h1v21h-1zM1693 265h1v21h-1zM1697 265h1v21h-1zM1703 265h1v21h-1zM1539 265h2v27h-2zM1410 265h1v32h-1zM1541 265h1v32h-1zM1694 270h2v11h-2zM1698 270h1v11h-1zM1701 270h1v11h-1zM1708 270h3v11h-3zM1379 270h1v16h-1zM1383 270h1v16h-1zM1385 270h1v16h-1zM1388 270h3v16h-3zM1392 270h3v16h-3zM1396 270h3v16h-3zM1704 270h1v16h-1zM1706 270h2v16h-2zM1712 270h1v16h-1zM1714 270h1v16h-1zM1382 270h1v22h-1zM1395 270h1v22h-1zM1400 270h3v22h-3zM1404 270h4v22h-4zM1537 270h2v22h-2zM1542 270h1v27h-1zM1715 276h3v10h-3zM1403 276h1v16h-1zM1408 276h2v16h-2zM1415 276h1v16h-1zM1417 276h1v16h-1zM1711 276h1v16h-1zM1713 276h1v16h-1zM1720 276h1v16h-1zM1726 276h1v16h-1zM1419 276h1v21h-1zM1532 276h1v21h-1zM1534 276h3v21h-3zM1425 276h1v26h-1zM1427 276h1v26h-1zM1429 276h1v26h-1zM1434 276h1v26h-1zM1438 276h1v26h-1zM1445 276h1v26h-1zM1455 276h1v37h-1zM1411 281h1v11h-1zM1413 281h2v11h-2zM1416 281h1v11h-1zM1718 281h1v11h-1zM1721 281h1v11h-1zM1724 281h2v11h-2zM1727 281h2v11h-2zM1412 281h1v16h-1zM1418 281h1v16h-1zM1420 281h5v16h-5zM1526 281h6v16h-6zM1533 281h1v16h-1zM1719 281h1v16h-1zM1722 281h2v16h-2zM1430 281h3v21h-3zM1440 281h1v21h-1zM1443 281h2v21h-2zM1446 281h1v21h-1zM1516 281h1v21h-1zM1521 281h1v21h-1zM1523 281h3v21h-3zM1458 281h1v26h-1zM1462 281h1v26h-1zM1507 281h1v26h-1zM1511 281h1v26h-1zM1513 281h1v32h-1zM1426 286h1v16h-1zM1433 286h1v16h-1zM1435 286h3v16h-3zM1439 286h1v16h-1zM1441 286h2v16h-2zM1449 286h2v16h-2zM1453 286h2v16h-2zM1514 286h2v16h-2zM1517 286h4v16h-4zM1428 286h1v21h-1zM1448 286h1v21h-1zM1451 286h2v21h-2zM1459 286h1v21h-1zM1466 286h1v21h-1zM1472 286h1v21h-1zM1474 286h1v21h-1zM1487 286h1v21h-1zM1497 286h1v21h-1zM1510 286h1v21h-1zM1522 286h1v21h-1zM1447 286h1v27h-1zM1476 286h1v27h-1zM1456 292h2v15h-2zM1460 292h1v15h-1zM1464 292h2v15h-2zM1467 292h4v15h-4zM1473 292h1v15h-1zM1482 292h2v15h-2zM1485 292h1v15h-1zM1489 292h1v15h-1zM1496 292h1v15h-1zM1502 292h1v15h-1zM1508 292h2v15h-2zM1512 292h1v15h-1zM1461 292h1v21h-1zM1463 292h1v21h-1zM1471 292h1v21h-1zM1475 292h1v21h-1zM1498 292h1v21h-1zM1505 292h2v21h-2zM1478 297h4v10h-4zM1484 297h1v10h-1zM1488 297h1v10h-1zM1490 297h4v10h-4zM1495 297h1v10h-1zM1499 297h3v10h-3zM1503 297h1v10h-1zM1477 297h1v16h-1zM1494 297h1v16h-1zM1486 297h1v21h-1zM1504 297h1v21h-1z" fill="#00f" shape-rendering="crispEdges"/><g font-size="11.00" text-anchor="middle" fill="#000"><text x="1378.0" y="335">11/19</text><text x="1378.0" y="347">00:00</text><text x="1421.8" y="335">11/19</text><text x="1421.8" y="347">03:00</text><text x="1465.5" y="335">11/19</text><text x="1465.5" y="347">06:00</text><text x="1509.2" y="335">11/19</text><text x="1509.2" y="347">09:00</text><text x="1553.0" y="335">11/19</text><text x="1553.0" y="347">12:00</text><text x="1596.8" y="335">11/19</text><text x="1596.8" y="347">15:00</text><text x="1640.5" y="335">11/19</text><text x="1640.5" y="347">18:00</text><text x="1684.2" y="335">11/19</text><text x="1684.2" y="347">21:00</text><text x="1728.0" y="335">11/20</text><text x="1728.0" y="347">00:00</text></g><g font-size="13.00" text-anchor="end" fill="#000" clip-path="url(#cp3)"><text x="1377.1" y="189.8">24</text><text x="1377.1" y="216.4">23.5</text><text x="1377.1" y="242.9">23</text><text x="1377.1" y="269.4">22.5</text><text x="1377.1" y="296.0">22</text><text x="1377.1" y="322.5">21.5</text></g><text transform="translate(1359.3 184.3) rotate(-90) scale(1 1.07)" font-size="13.20" text-anchor="end" fill="#000">degC</text><rect x="1730" y="184" width="56" height="140" fill="#0f0" shape-rendering="crispEdges"/><g font-size="6.89" font-weight="bold" text-anchor="middle" fill="#000"><text x="1757.8" y="221.5">T_room_PT100</text><text x="1757.8" y="292.1">22 degC</text></g></g>
<g><path d="M75.5 359V499M119.5 359V499M162.5 359V499M206.5 359V499M250.5 359V499M294.5 359V499M337.5 359V499" stroke="#000" stroke-width="1" stroke-dasharray="1 2" fill="none" shape-rendering="crispEdges"/><path d="M31 385.5H381M31 411.5H381M31 436.5H381M31 462.5H381M31 487.5H381" stroke="#000" stroke-width="1" stroke-dasharray="1 2" fill="none" shape-rendering="crispEdges"/><path d="M31.5 494V499M46.5 497V499M60.5 497V499M75.5 494V499M89.5 497V499M104.5 497V499M119.5 494V499M133.5 497V499M148.5 497V499M162.5 494V499M177.5 497V499M191.5 497V499M206.5 494V499M221.5 497V499M235.5 497V499M250.5 494V499M264.5 497V499M279.5 497V499M294.5 494V499M308.5 497V499M323.5 497V499M337.5 494V499M352.5 497V499M366.5 497V499M381.5 494V499M32 385.5H44M32 411.5H44M32 436.5H44M32 462.5H44M32 487.5H44M32 494.5H37M32 481.5H37M32 474.5H37M32 468.5H37M32 455.5H37M32 449.5H37M32 442.5H37M32 430.5H37M32 423.5H37M32 417.5H37M32 404.5H37M32 398.5H37M32 391.5H37M32 379.5H37M32 372.5H37M32 366.5H37" stroke="#000" stroke-width="1" fill="none" shape-rendering="crispEdges"/><rect x="31.5" y="359.5" width="350" height="140" fill="none" stroke="#000" stroke-width="1" shape-rendering="crispEdges"/><path d="M31 474.5H382" stroke="#0f0" stroke-width="1" shape-rendering="crispEdges"/><path d="M241 371h1v117h-1zM277 384h1v104h-1zM363 424h1v64h-1zM318 439h1v49h-1zM324 442h1v46h-1zM258 447h1v41h-1zM309 447h1v41h-1zM322 451h1v37h-1zM355 451h1v37h-1zM293 456h1v32h-1zM306 456h1v32h-1zM203 458h1v30h-1zM283 459h1v29h-1zM206 462h1v26h-1zM312 462h1v26h-1zM335 463h1v25h-1zM299 464h1v24h-1zM234 466h1v22h-1zM238 466h1v22h-1zM212 467h1v21h-1zM218 467h1v21h-1zM285 467h1v21h-1zM317 467h1v21h-1zM371 467h1v21h-1zM215 468h1v20h-1zM290 468h1v20h-1zM294 468h1v20h-1zM314 468h1v20h-1zM349 468h1v20h-1zM224 469h1v19h-1zM237 469h1v19h-1zM288 469h1v19h-1zM226 470h1v18h-1zM235 470h1v18h-1zM252 470h1v18h-1zM258 470h1v18h-1zM261 470h1v18h-1zM272 470h1v18h-1zM359 470h1v18h-1zM379 470h1v18h-1zM253 471h1v17h-1zM269 471h1v17h-1zM295 471h1v17h-1zM310 471h1v17h-1zM312 471h1v17h-1zM342 471h1v17h-1zM239 472h1v16h-1zM247 472h1v16h-1zM249 472h1v16h-1zM299 472h1v16h-1zM315 472h1v16h-1zM325 472h1v16h-1zM364 472h1v16h-1zM205 473h1v15h-1zM285 473h1v15h-1zM330 473h1v15h-1zM345 473h1v15h-1zM347 473h1v15h-1zM356 473h1v15h-1zM377 473h1v15h-1zM64 474h1v14h-1zM210 474h1v14h-1zM242 474h1v14h-1zM263 474h1v14h-1zM282 474h1v14h-1zM31 475h1v13h-1zM200 475h1v13h-1zM223 475h1v13h-1zM298 475h1v13h-1zM355 475h1v13h-1zM363 475h1v13h-1zM366 475h1v13h-1zM373 475h1v13h-1zM120 476h1v12h-1zM232 476h1v12h-1zM244 476h1v12h-1zM295 476h1v12h-1zM303 476h1v12h-1zM311 476h1v12h-1zM329 476h1v12h-1zM334 476h1v12h-1zM352 476h1v12h-1zM379 476h1v12h-1zM218 477h1v11h-1zM231 477h1v11h-1zM246 477h1v11h-1zM259 477h1v11h-1zM271 477h1v11h-1zM277 477h1v11h-1zM279 477h1v11h-1zM286 477h1v11h-1zM291 477h1v11h-1zM297 477h1v11h-1zM302 477h1v11h-1zM306 477h1v11h-1zM309 477h1v11h-1zM327 477h1v11h-1zM332 477h1v11h-1zM337 477h1v11h-1zM362 477h1v11h-1zM376 477h1v11h-1zM180 478h1v10h-1zM197 478h1v10h-1zM199 478h1v10h-1zM201 478h1v10h-1zM230 478h1v10h-1zM248 478h1v10h-1zM254 478h1v10h-1zM260 478h1v10h-1zM262 478h1v10h-1zM266 478h1v10h-1zM268 478h1v10h-1zM270 478h1v10h-1zM273 478h1v10h-1zM276 478h1v10h-1zM280 478h1v10h-1zM292 478h1v10h-1zM308 478h1v10h-1zM313 478h1v10h-1zM319 478h1v10h-1zM321 478h1v10h-1zM331 478h1v10h-1zM335 478h1v10h-1zM338 478h1v10h-1zM340 478h1v10h-1zM343 478h2v10h-2zM349 478h1v10h-1zM351 478h1v10h-1zM354 478h1v10h-1zM367 478h2v10h-2zM378 478h1v10h-1zM381 478h1v10h-1zM50 479h1v9h-1zM198 479h1v9h-1zM202 479h2v9h-2zM207 479h2v9h-2zM211 479h1v9h-1zM213 479h4v9h-4zM220 479h1v9h-1zM225 479h1v9h-1zM227 479h3v9h-3zM234 479h1v9h-1zM236 479h1v9h-1zM238 479h1v9h-1zM241 479h1v9h-1zM243 479h1v9h-1zM245 479h1v9h-1zM251 479h1v9h-1zM257 479h1v9h-1zM287 479h1v9h-1zM293 479h1v9h-1zM304 479h1v9h-1zM320 479h1v9h-1zM322 479h1v9h-1zM324 479h1v9h-1zM326 479h1v9h-1zM333 479h1v9h-1zM336 479h1v9h-1zM341 479h1v9h-1zM348 479h1v9h-1zM350 479h1v9h-1zM361 479h1v9h-1zM369 479h1v9h-1zM372 479h1v9h-1zM375 479h1v9h-1zM48 480h1v8h-1zM92 480h1v8h-1zM127 480h1v8h-1zM193 480h1v8h-1zM204 480h1v8h-1zM206 480h1v8h-1zM209 480h1v8h-1zM217 480h1v8h-1zM219 480h1v8h-1zM221 480h2v8h-2zM233 480h1v8h-1zM240 480h1v8h-1zM250 480h1v8h-1zM255 480h2v8h-2zM264 480h2v8h-2zM267 480h1v8h-1zM274 480h2v8h-2zM278 480h1v8h-1zM281 480h1v8h-1zM283 480h2v8h-2zM289 480h1v8h-1zM296 480h1v8h-1zM300 480h2v8h-2zM305 480h1v8h-1zM307 480h1v8h-1zM316 480h1v8h-1zM318 480h1v8h-1zM323 480h1v8h-1zM328 480h1v8h-1zM339 480h1v8h-1zM346 480h1v8h-1zM353 480h1v8h-1zM357 480h2v8h-2zM360 480h1v8h-1zM365 480h1v8h-1zM370 480h2v8h-2zM374 480h1v8h-1zM380 480h1v8h-1zM50 481h1v7h-1zM70 481h1v7h-1zM87 481h1v7h-1zM119 481h1v7h-1zM138 481h1v7h-1zM183 481h1v7h-1zM101 482h2v6h-2zM154 482h1v6h-1zM178 482h1v6h-1zM31 483h1v5h-1zM59 483h1v5h-1zM136 483h1v5h-1zM144 483h1v5h-1zM147 483h1v5h-1zM194 483h1v5h-1zM36 484h2v4h-2zM39 484h1v4h-1zM42 484h1v4h-1zM44 484h1v4h-1zM48 484h1v4h-1zM51 484h1v4h-1zM60 484h2v4h-2zM72 484h1v4h-1zM78 484h1v4h-1zM90 484h1v4h-1zM97 484h1v4h-1zM103 484h1v4h-1zM110 484h1v4h-1zM114 484h1v4h-1zM116 484h1v4h-1zM121 484h1v4h-1zM125 484h1v4h-1zM129 484h1v4h-1zM134 484h1v4h-1zM142 484h2v4h-2zM156 484h1v4h-1zM167 484h1v4h-1zM170 484h2v4h-2zM175 484h2v4h-2zM180 484h1v4h-1zM186 484h1v4h-1zM191 484h1v4h-1zM195 484h1v4h-1zM32 485h4v3h-4zM38 485h1v3h-1zM40 485h2v3h-2zM43 485h1v3h-1zM45 485h3v3h-3zM49 485h1v3h-1zM52 485h7v3h-7zM62 485h8v3h-8zM71 485h1v3h-1zM73 485h5v3h-5zM79 485h8v3h-8zM88 485h2v3h-2zM91 485h1v3h-1zM93 485h4v3h-4zM98 485h3v3h-3zM104 485h6v3h-6zM111 485h3v3h-3zM115 485h1v3h-1zM117 485h2v3h-2zM120 485h1v3h-1zM122 485h3v3h-3zM126 485h1v3h-1zM128 485h1v3h-1zM130 485h4v3h-4zM135 485h1v3h-1zM137 485h1v3h-1zM139 485h3v3h-3zM145 485h2v3h-2zM148 485h6v3h-6zM155 485h1v3h-1zM157 485h10v3h-10zM168 485h2v3h-2zM172 485h3v3h-3zM177 485h1v3h-1zM179 485h1v3h-1zM181 485h2v3h-2zM184 485h2v3h-2zM187 485h4v3h-4zM192 485h1v3h-1zM196 485h1v3h-1z" fill="#00f" shape-rendering="crispEdges"/><g font-size="11.00" text-anchor="middle" fill="#000"><text x="31.0" y="511">11/19</text><text x="31.0" y="523">00:00</text><text x="74.8" y="511">11/19</text><text x="74.8" y="523">03:00</text><text x="118.5" y="511">11/19</text><text x="118.5" y="523">06:00</text><text x="162.2" y="511">11/19</text><text x="162.2" y="523">09:00</text><text x="206.0" y="511">11/19</text><text x="206.0" y="523">12:00</text><text x="249.8" y="511">11/19</text><text x="249.8" y="523">15:00</text><text x="293.5" y="511">11/19</text><text x="293.5" y="523">18:00</text><text x="337.2" y="511">11/19</text><text x="337.2" y="523">21:00</text><text x="381.0" y="511">11/20</text><text x="381.0" y="523">00:00</text></g><g font-size="13.00" text-anchor="end" fill="#000" clip-path="url(#cp0)"><text x="28.8" y="364.3">1000</text><text x="28.8" y="389.9">800</text><text x="28.8" y="415.5">600</text><text x="28.8" y="441.1">400</text><text x="28.8" y="466.7">200</text><text x="28.8" y="492.2">0</text></g><text transform="translate(14.0 359.3) rotate(-90) scale(1 1.07)" font-size="13.20" text-anchor="end" fill="#000">Hz</text><rect x="383" y="359" width="56" height="140" fill="#0f0" shape-rendering="crispEdges"/><g font-size="10.66" font-weight="bold" text-anchor="middle" fill="#000"><text x="410.8" y="397.8">PMT_rate</text><text x="410.8" y="468.8">19.9 Hz</text></g></g>
<g><path d="M524.5 359V499M568.5 359V499M611.5 359V499M655.5 359V499M699.5 359V499M743.5 359V499M786.5 359V499" stroke="#000" stroke-width="1" stroke-dasharray="1 2" fill="none" shape-rendering="crispEdges"/><path d="M480 377.5H830M480 415.5H830M480 454.5H830M480 493.5H830" stroke="#000" stroke-width="1" stroke-dasharray="1 2" fill="none" shape-rendering="crispEdges"/><path d="M480.5 494V499M495.5 497V499M509.5 497V499M524.5 494V499M538.5 497V499M553.5 497V499M568.5 494V499M582.5 497V499M597.5 497V499M611.5 494V499M626.5 497V499M640.5 497V499M655.5 494V499M670.5 497V499M684.5 497V499M699.5 494V499M713.5 497V499M728.5 497V499M743.5 494V499M757.5 497V499M772.5 497V499M786.5 494V499M801.5 497V499M815.5 497V499M830.5 494V499M481 377.5H493M481 415.5H493M481 454.5H493M481 493.5H493M481 485.5H486M481 477.5H486M481 470.5H486M481 462.5H486M481 446.5H486M481 439.5H486M481 431.5H486M481 423.5H486M481 408.5H486M481 400.5H486M481 392.5H486M481 384.5H486M481 369.5H486M481 361.5H486" stroke="#000" stroke-width="1" fill="none" shape-rendering="crispEdges"/><rect x="480.5" y="359.5" width="350" height="140" fill="none" stroke="#000" stroke-width="1" shape-rendering="crispEdges"/><path d="M487 371h1v79h-1zM500 371h1v79h-1zM748 371h1v79h-1zM574 371h1v98h-1zM480 390h4v60h-4zM485 390h2v60h-2zM488 390h3v60h-3zM492 390h8v60h-8zM501 390h10v60h-10zM515 390h1v60h-1zM517 390h3v60h-3zM522 390h1v60h-1zM525 390h1v60h-1zM527 390h1v60h-1zM530 390h1v60h-1zM533 390h3v60h-3zM538 390h1v60h-1zM540 390h1v60h-1zM542 390h2v60h-2zM547 390h2v60h-2zM551 390h1v60h-1zM553 390h3v60h-3zM558 390h2v60h-2zM561 390h2v60h-2zM680 390h2v60h-2zM683 390h1v60h-1zM688 390h2v60h-2zM691 390h3v60h-3zM696 390h1v60h-1zM698 390h1v60h-1zM701 390h5v60h-5zM714 390h1v60h-1zM724 390h1v60h-1zM726 390h8v60h-8zM735 390h11v60h-11zM747 390h1v60h-1zM752 390h1v60h-1zM754 390h7v60h-7zM762 390h2v60h-2zM765 390h2v60h-2zM770 390h1v60h-1zM777 390h3v60h-3zM782 390h2v60h-2zM786 390h2v60h-2zM789 390h5v60h-5zM484 390h1v79h-1zM491 390h1v79h-1zM511 390h4v79h-4zM516 390h1v79h-1zM520 390h2v79h-2zM523 390h2v79h-2zM526 390h1v79h-1zM528 390h2v79h-2zM531 390h2v79h-2zM536 390h2v79h-2zM539 390h1v79h-1zM541 390h1v79h-1zM544 390h2v79h-2zM549 390h2v79h-2zM552 390h1v79h-1zM556 390h1v79h-1zM560 390h1v79h-1zM564 390h2v79h-2zM591 390h1v79h-1zM593 390h1v79h-1zM595 390h1v79h-1zM597 390h1v79h-1zM599 390h6v79h-6zM607 390h1v79h-1zM613 390h1v79h-1zM615 390h2v79h-2zM627 390h1v79h-1zM633 390h1v79h-1zM641 390h1v79h-1zM643 390h2v79h-2zM648 390h2v79h-2zM652 390h2v79h-2zM655 390h1v79h-1zM660 390h1v79h-1zM670 390h1v79h-1zM672 390h8v79h-8zM682 390h1v79h-1zM685 390h3v79h-3zM690 390h1v79h-1zM694 390h1v79h-1zM697 390h1v79h-1zM699 390h1v79h-1zM707 390h7v79h-7zM715 390h2v79h-2zM718 390h6v79h-6zM725 390h1v79h-1zM734 390h1v79h-1zM746 390h1v79h-1zM749 390h3v79h-3zM753 390h1v79h-1zM764 390h1v79h-1zM769 390h1v79h-1zM771 390h4v79h-4zM776 390h1v79h-1zM780 390h2v79h-2zM784 390h1v79h-1zM788 390h1v79h-1zM794 390h1v79h-1zM801 390h1v79h-1zM805 390h2v79h-2zM809 390h1v79h-1zM817 390h1v79h-1zM819 390h1v79h-1zM821 390h2v79h-2zM824 390h1v79h-1zM828 390h1v79h-1zM684 410h1v40h-1zM700 410h1v40h-1zM706 410h1v40h-1zM761 410h1v40h-1zM775 410h1v40h-1zM785 410h1v40h-1zM546 410h1v59h-1zM557 410h1v59h-1zM563 410h1v59h-1zM566 410h8v59h-8zM575 410h16v59h-16zM592 410h1v59h-1zM594 410h1v59h-1zM596 410h1v59h-1zM598 410h1v59h-1zM605 410h2v59h-2zM608 410h5v59h-5zM614 410h1v59h-1zM617 410h7v59h-7zM626 410h1v59h-1zM628 410h5v59h-5zM634 410h7v59h-7zM642 410h1v59h-1zM645 410h3v59h-3zM650 410h2v59h-2zM654 410h1v59h-1zM656 410h4v59h-4zM661 410h9v59h-9zM671 410h1v59h-1zM695 410h1v59h-1zM717 410h1v59h-1zM767 410h2v59h-2zM795 410h6v59h-6zM802 410h3v59h-3zM807 410h2v59h-2zM810 410h7v59h-7zM818 410h1v59h-1zM820 410h1v59h-1zM823 410h1v59h-1zM825 410h3v59h-3zM829 410h2v59h-2zM624 429h2v40h-2zM625 469h1v19h-1z" fill="#00f" shape-rendering="crispEdges"/><g font-size="11.00" text-anchor="middle" fill="#000"><text x="480.0" y="511">11/19</text><text x="480.0" y="523">00:00</text><text x="523.8" y="511">11/19</text><text x="523.8" y="523">03:00</text><text x="567.5" y="511">11/19</text><text x="567.5" y="523">06:00</text><text x="611.2" y="511">11/19</text><text x="611.2" y="523">09:00</text><text x="655.0" y="511">11/19</text><text x="655.0" y="523">12:00</text><text x="698.8" y="511">11/19</text><text x="698.8" y="523">15:00</text><text x="742.5" y="511">11/19</text><text x="742.5" y="523">18:00</text><text x="786.2" y="511">11/19</text><text x="786.2" y="523">21:00</text><text x="830.0" y="511">11/20</text><text x="830.0" y="523">00:00</text></g><g font-size="13.00" text-anchor="end" fill="#000" clip-path="url(#cp1)"><text x="479.1" y="381.7">5.7</text><text x="479.1" y="420.4">5.65</text><text x="479.1" y="459.1">5.6</text><text x="479.1" y="497.8">5.55</text></g><text transform="translate(463.0 359.3) rotate(-90) scale(1 1.07)" font-size="13.20" text-anchor="end" fill="#000">bar</text><rect x="832" y="359" width="56" height="140" fill="#0f0" shape-rendering="crispEdges"/><g font-size="6.92" font-weight="bold" text-anchor="middle" fill="#000"><text x="859.8" y="396.5">P_HP180L(adj.)</text><text x="859.8" y="467.5">5.6075 bar</text></g></g>
<g><path d="M973.5 359V499M1017.5 359V499M1060.5 359V499M1104.5 359V499M1148.5 359V499M1192.5 359V499M1235.5 359V499" stroke="#000" stroke-width="1" stroke-dasharray="1 2" fill="none" shape-rendering="crispEdges"/><path d="M929 366.5H1279M929 400.5H1279M929 433.5H1279M929 466.5H1279" stroke="#000" stroke-width="1" stroke-dasharray="1 2" fill="none" shape-rendering="crispEdges"/><path d="M929.5 494V499M944.5 497V499M958.5 497V499M973.5 494V499M987.5 497V499M1002.5 497V499M1017.5 494V499M1031.5 497V499M1046.5 497V499M1060.5 494V499M1075.5 497V499M1089.5 497V499M1104.5 494V499M1119.5 497V499M1133.5 497V499M1148.5 494V499M1162.5 497V499M1177.5 497V499M1192.5 494V499M1206.5 497V499M1221.5 497V499M1235.5 494V499M1250.5 497V499M1264.5 497V499M1279.5 494V499M930 366.5H942M930 400.5H942M930 433.5H942M930 466.5H942M930 491.5H935M930 483.5H935M930 474.5H935M930 458.5H935M930 449.5H935M930 441.5H935M930 424.5H935M930 416.5H935M930 408.5H935M930 391.5H935M930 383.5H935M930 375.5H935" stroke="#000" stroke-width="1" fill="none" shape-rendering="crispEdges"/><rect x="929.5" y="359.5" width="350" height="140" fill="none" stroke="#000" stroke-width="1" shape-rendering="crispEdges"/><path d="M1186 370h1v87h-1zM1173 371h1v86h-1zM1180 372h1v83h-1zM1181 372h1v84h-1zM1171 372h1v85h-1zM1177 372h1v85h-1zM1166 372h1v86h-1zM1182 373h1v81h-1zM1184 373h1v81h-1zM1179 373h1v82h-1zM1183 373h1v85h-1zM1170 373h1v86h-1zM1178 374h1v81h-1zM1185 374h1v81h-1zM1176 374h1v82h-1zM1187 374h1v84h-1zM1174 375h2v83h-2zM1172 376h1v80h-1zM1188 376h2v80h-2zM1168 376h1v81h-1zM1190 376h1v81h-1zM1162 376h1v87h-1zM1191 377h3v80h-3zM1163 377h1v81h-1zM1165 377h1v81h-1zM1167 377h1v81h-1zM1169 377h1v81h-1zM1160 377h1v82h-1zM1150 377h1v83h-1zM1161 378h1v80h-1zM1164 378h1v80h-1zM1194 378h1v81h-1zM1149 378h1v83h-1zM1157 379h3v80h-3zM1153 379h1v81h-1zM1155 379h2v81h-2zM1195 379h2v81h-2zM1151 379h1v82h-1zM1134 379h1v87h-1zM1152 380h1v80h-1zM1154 380h1v80h-1zM1148 380h1v81h-1zM1145 380h1v85h-1zM1144 381h1v80h-1zM1197 381h2v80h-2zM1143 381h1v81h-1zM1146 381h1v81h-1zM1199 381h1v81h-1zM1147 381h1v83h-1zM1201 381h1v84h-1zM1139 381h1v86h-1zM1140 382h1v80h-1zM1141 382h1v81h-1zM1138 382h1v82h-1zM1129 382h1v83h-1zM1202 382h2v83h-2zM1200 382h1v85h-1zM1137 383h1v80h-1zM1133 383h1v81h-1zM1136 383h1v81h-1zM1132 383h1v82h-1zM1210 383h1v83h-1zM1142 383h1v84h-1zM1135 383h1v85h-1zM1122 383h1v86h-1zM1204 384h1v80h-1zM1209 384h1v82h-1zM1127 384h1v84h-1zM1130 385h2v79h-2zM1125 385h1v80h-1zM1207 385h1v81h-1zM1128 385h1v83h-1zM1205 386h1v79h-1zM1126 386h1v83h-1zM1206 386h1v83h-1zM1219 386h1v83h-1zM934 386h1v85h-1zM1218 386h1v85h-1zM932 386h1v89h-1zM1123 387h2v79h-2zM1208 387h1v79h-1zM1213 387h2v81h-2zM1121 388h1v78h-1zM1211 388h2v79h-2zM1117 388h1v80h-1zM1215 388h1v80h-1zM1120 388h1v81h-1zM1110 388h1v82h-1zM1119 388h1v82h-1zM1221 388h1v82h-1zM935 388h1v83h-1zM953 388h1v84h-1zM1227 388h1v84h-1zM956 388h1v85h-1zM950 388h1v86h-1zM943 388h1v87h-1zM1104 388h1v87h-1zM1118 389h1v78h-1zM1114 389h1v80h-1zM1116 389h1v80h-1zM1216 389h2v80h-2zM1220 389h1v81h-1zM946 389h1v82h-1zM1230 389h1v82h-1zM929 389h1v83h-1zM936 389h1v83h-1zM940 389h1v83h-1zM1113 390h1v79h-1zM1112 390h1v80h-1zM930 390h1v81h-1zM939 390h1v81h-1zM1222 390h1v81h-1zM949 390h1v82h-1zM1115 390h1v82h-1zM931 390h1v84h-1zM941 390h1v84h-1zM948 390h1v84h-1zM1223 390h1v84h-1zM1111 391h1v79h-1zM937 391h2v80h-2zM942 391h1v80h-1zM944 391h2v80h-2zM1224 391h2v80h-2zM952 391h1v81h-1zM1108 391h2v81h-2zM1232 391h2v81h-2zM933 391h1v82h-1zM947 391h1v82h-1zM1226 391h1v82h-1zM958 391h1v83h-1zM963 391h1v83h-1zM986 391h1v84h-1zM1231 392h1v79h-1zM1229 392h1v80h-1zM1234 392h1v80h-1zM951 392h1v81h-1zM959 392h2v81h-2zM964 392h1v81h-1zM1107 392h1v81h-1zM1228 392h1v81h-1zM1241 392h1v81h-1zM954 392h1v82h-1zM965 392h1v82h-1zM985 392h1v84h-1zM969 392h1v85h-1zM1103 392h1v85h-1zM955 393h1v79h-1zM961 393h1v79h-1zM1236 393h1v79h-1zM957 393h1v80h-1zM967 393h1v80h-1zM971 393h1v80h-1zM1105 393h1v80h-1zM1235 393h1v80h-1zM970 393h1v81h-1zM972 393h1v81h-1zM977 393h1v81h-1zM1106 393h1v81h-1zM962 393h1v82h-1zM976 393h1v82h-1zM980 393h1v82h-1zM1243 393h1v83h-1zM1101 393h1v85h-1zM1237 394h1v78h-1zM1238 394h2v79h-2zM966 394h1v80h-1zM973 394h3v80h-3zM1240 394h1v80h-1zM1242 394h1v80h-1zM968 394h1v81h-1zM978 394h2v81h-2zM981 394h1v81h-1zM983 394h1v82h-1zM1028 394h1v84h-1zM1244 395h1v79h-1zM982 395h1v80h-1zM1246 395h2v80h-2zM1255 395h1v80h-1zM984 395h1v81h-1zM1245 395h1v82h-1zM1250 395h1v82h-1zM1012 395h1v83h-1zM1099 395h2v83h-2zM1248 395h1v83h-1zM1058 395h1v84h-1zM1252 396h1v78h-1zM993 396h1v79h-1zM1251 396h1v79h-1zM987 396h2v80h-2zM999 396h1v80h-1zM1102 396h1v80h-1zM1249 396h1v81h-1zM1001 396h1v82h-1zM1023 396h1v82h-1zM1256 396h1v82h-1zM1063 396h1v84h-1zM1261 396h1v84h-1zM1269 396h1v84h-1zM1045 396h1v85h-1zM1253 397h2v78h-2zM1257 397h1v78h-1zM1259 397h1v78h-1zM990 397h1v79h-1zM992 397h1v79h-1zM994 397h4v79h-4zM1002 397h1v79h-1zM1007 397h1v79h-1zM1258 397h1v79h-1zM1266 397h1v79h-1zM1000 397h1v80h-1zM1003 397h2v80h-2zM1011 397h1v80h-1zM1268 397h1v80h-1zM1270 397h1v80h-1zM998 397h1v81h-1zM1025 397h1v81h-1zM1027 397h1v81h-1zM1030 397h1v81h-1zM1264 397h1v81h-1zM1006 397h1v82h-1zM1018 397h1v84h-1zM1054 397h1v84h-1zM1075 397h1v84h-1zM1097 397h1v84h-1zM1090 397h1v85h-1zM1076 397h1v88h-1zM1088 397h1v88h-1zM991 398h1v78h-1zM1009 398h1v78h-1zM1260 398h1v78h-1zM989 398h1v79h-1zM1008 398h1v79h-1zM1010 398h1v79h-1zM1014 398h1v79h-1zM1017 398h1v79h-1zM1265 398h1v79h-1zM1013 398h1v80h-1zM1016 398h1v80h-1zM1019 398h4v80h-4zM1053 398h1v80h-1zM1263 398h1v80h-1zM1274 398h1v80h-1zM1005 398h1v81h-1zM1024 398h1v81h-1zM1026 398h1v81h-1zM1061 398h1v81h-1zM1278 398h1v81h-1zM1015 398h1v82h-1zM1262 398h1v82h-1zM1057 398h1v84h-1zM1065 398h1v84h-1zM1098 398h1v84h-1zM1081 398h1v89h-1zM1267 399h1v78h-1zM1031 399h3v79h-3zM1040 399h2v79h-2zM1272 399h1v79h-1zM1034 399h1v80h-1zM1039 399h1v80h-1zM1050 399h1v80h-1zM1056 399h1v80h-1zM1060 399h1v80h-1zM1096 399h1v80h-1zM1271 399h1v80h-1zM1273 399h1v80h-1zM1029 399h1v81h-1zM1047 399h1v81h-1zM1059 399h1v81h-1zM1062 399h1v81h-1zM1066 399h1v81h-1zM1070 399h1v81h-1zM1275 399h1v81h-1zM1073 399h2v82h-2zM1071 399h1v83h-1zM1080 399h1v83h-1zM1064 399h1v84h-1zM1067 399h1v84h-1zM1046 399h1v85h-1zM1055 399h1v85h-1zM1083 399h1v85h-1zM1037 400h2v78h-2zM1042 400h1v78h-1zM1276 400h1v78h-1zM1044 400h1v79h-1zM1048 400h1v79h-1zM1051 400h1v79h-1zM1277 400h1v79h-1zM1036 400h1v80h-1zM1052 400h1v80h-1zM1093 400h1v80h-1zM1035 400h1v82h-1zM1068 400h2v82h-2zM1279 400h1v82h-1zM1087 400h1v83h-1zM1078 400h1v84h-1zM1043 401h1v78h-1zM1095 401h1v78h-1zM1049 401h1v79h-1zM1072 401h1v79h-1zM1092 401h1v79h-1zM1094 401h1v79h-1zM1086 401h1v80h-1zM1077 401h1v81h-1zM1084 401h1v81h-1zM1089 401h1v81h-1zM1091 401h1v82h-1zM1082 401h1v83h-1zM1085 401h1v84h-1zM1079 401h1v85h-1z" fill="#00f" shape-rendering="crispEdges"/><g font-size="11.00" text-anchor="middle" fill="#000"><text x="929.0" y="511">11/19</text><text x="929.0" y="523">00:00</text><text x="972.8" y="511">11/19</text><text x="972.8" y="523">03:00</text><text x="1016.5" y="511">11/19</text><text x="1016.5" y="523">06:00</text><text x="1060.2" y="511">11/19</text><text x="1060.2" y="523">09:00</text><text x="1104.0" y="511">11/19</text><text x="1104.0" y="523">12:00</text><text x="1147.8" y="511">11/19</text><text x="1147.8" y="523">15:00</text><text x="1191.5" y="511">11/19</text><text x="1191.5" y="523">18:00</text><text x="1235.2" y="511">11/19</text><text x="1235.2" y="523">21:00</text><text x="1279.0" y="511">11/20</text><text x="1279.0" y="523">00:00</text></g><g font-size="13.00" text-anchor="end" fill="#000" clip-path="url(#cp2)"><text x="928.1" y="371.3">26</text><text x="928.1" y="404.5">24</text><text x="928.1" y="437.8">22</text><text x="928.1" y="471.0">20</text><text x="928.1" y="504.2">18</text></g><text transform="translate(910.3 359.3) rotate(-90) scale(1 1.07)" font-size="13.20" text-anchor="end" fill="#000">degC</text><rect x="1281" y="359" width="56" height="140" fill="#0f0" shape-rendering="crispEdges"/><g font-size="10.69" font-weight="bold" text-anchor="middle" fill="#000"><text x="1308.8" y="397.8">T_MS</text><text x="1308.8" y="468.2">20.2 degC</text></g></g>
<g><path d="M1422.5 359V499M1466.5 359V499M1509.5 359V499M1553.5 359V499M1597.5 359V499M1641.5 359V499M1684.5 359V499" stroke="#000" stroke-width="1" stroke-dasharray="1 2" fill="none" shape-rendering="crispEdges"/><path d="M1378 371.5H1728M1378 394.5H1728M1378 417.5H1728M1378 441.5H1728M1378 464.5H1728M1378 488.5H1728" stroke="#000" stroke-width="1" stroke-dasharray="1 2" fill="none" shape-rendering="crispEdges"/><path d="M1378.5 494V499M1393.5 497V499M1407.5 497V499M1422.5 494V499M1436.5 497V499M1451.5 497V499M1466.5 494V499M1480.5 497V499M1495.5 497V499M1509.5 494V499M1524.5 497V499M1538.5 497V499M1553.5 494V499M1568.5 497V499M1582.5 497V499M1597.5 494V499M1611.5 497V499M1626.5 497V499M1641.5 494V499M1655.5 497V499M1670.5 497V499M1684.5 494V499M1699.5 497V499M1713.5 497V499M1728.5 494V499M1379 371.5H1391M1379 394.5H1391M1379 417.5H1391M1379 441.5H1391M1379 464.5H1391M1379 488.5H1391M1379 497.5H1384M1379 492.5H1384M1379 483.5H1384M1379 478.5H1384M1379 474.5H1384M1379 469.5H1384M1379 460.5H1384M1379 455.5H1384M1379 450.5H1384M1379 445.5H1384M1379 436.5H1384M1379 431.5H1384M1379 427.5H1384M1379 422.5H1384M1379 413.5H1384M1379 408.5H1384M1379 403.5H1384M1379 399.5H1384M1379 389.5H1384M1379 385.5H1384M1379 380.5H1384M1379 375.5H1384M1379 366.5H1384M1379 361.5H1384" stroke="#000" stroke-width="1" fill="none" shape-rendering="crispEdges"/><rect x="1378.5" y="359.5" width="350" height="140" fill="none" stroke="#000" stroke-width="1" shape-rendering="crispEdges"/><path d="M1379 371h1v71h-1zM1383 371h2v71h-2zM1388 371h3v71h-3zM1392 371h7v71h-7zM1402 371h1v71h-1zM1404 371h1v71h-1zM1408 371h1v71h-1zM1412 371h1v71h-1zM1419 371h1v71h-1zM1423 371h2v71h-2zM1430 371h1v71h-1zM1437 371h1v71h-1zM1444 371h1v71h-1zM1523 371h1v71h-1zM1612 371h1v71h-1zM1631 371h1v71h-1zM1640 371h1v71h-1zM1642 371h1v71h-1zM1645 371h1v71h-1zM1648 371h1v71h-1zM1650 371h1v71h-1zM1378 371h1v94h-1zM1380 371h2v94h-2zM1385 371h1v94h-1zM1391 371h1v94h-1zM1399 371h3v94h-3zM1403 371h1v94h-1zM1405 371h3v94h-3zM1409 371h2v94h-2zM1416 371h1v94h-1zM1418 371h1v94h-1zM1422 371h1v94h-1zM1425 371h1v94h-1zM1427 371h3v94h-3zM1432 371h1v94h-1zM1434 371h3v94h-3zM1438 371h4v94h-4zM1443 371h1v94h-1zM1445 371h2v94h-2zM1448 371h1v94h-1zM1454 371h3v94h-3zM1458 371h1v94h-1zM1463 371h1v94h-1zM1473 371h2v94h-2zM1481 371h1v94h-1zM1485 371h1v94h-1zM1494 371h3v94h-3zM1515 371h1v94h-1zM1520 371h3v94h-3zM1527 371h1v94h-1zM1531 371h1v94h-1zM1541 371h1v94h-1zM1581 371h3v94h-3zM1585 371h1v94h-1zM1589 371h4v94h-4zM1594 371h2v94h-2zM1597 371h2v94h-2zM1601 371h1v94h-1zM1607 371h1v94h-1zM1609 371h1v94h-1zM1614 371h1v94h-1zM1616 371h3v94h-3zM1621 371h1v94h-1zM1623 371h2v94h-2zM1630 371h1v94h-1zM1632 371h3v94h-3zM1636 371h2v94h-2zM1643 371h1v94h-1zM1646 371h2v94h-2zM1652 371h1v94h-1zM1655 371h1v94h-1zM1657 371h1v94h-1zM1659 371h2v94h-2zM1662 371h2v94h-2zM1665 371h2v94h-2zM1675 371h1v94h-1zM1678 371h1v94h-1zM1695 371h1v94h-1zM1698 371h1v94h-1zM1700 371h1v94h-1zM1711 371h1v94h-1zM1723 371h1v94h-1zM1725 371h1v94h-1zM1727 371h2v94h-2zM1382 394h1v48h-1zM1387 394h1v48h-1zM1413 394h1v48h-1zM1420 394h1v48h-1zM1431 394h1v48h-1zM1453 394h1v48h-1zM1629 394h1v48h-1zM1639 394h1v48h-1zM1653 394h1v48h-1zM1386 394h1v71h-1zM1411 394h1v71h-1zM1414 394h2v71h-2zM1417 394h1v71h-1zM1421 394h1v71h-1zM1426 394h1v71h-1zM1433 394h1v71h-1zM1442 394h1v71h-1zM1447 394h1v71h-1zM1449 394h4v71h-4zM1457 394h1v71h-1zM1459 394h4v71h-4zM1464 394h9v71h-9zM1475 394h6v71h-6zM1482 394h3v71h-3zM1486 394h8v71h-8zM1497 394h18v71h-18zM1516 394h4v71h-4zM1524 394h3v71h-3zM1528 394h3v71h-3zM1532 394h9v71h-9zM1542 394h39v71h-39zM1584 394h1v71h-1zM1586 394h3v71h-3zM1593 394h1v71h-1zM1596 394h1v71h-1zM1599 394h2v71h-2zM1602 394h5v71h-5zM1608 394h1v71h-1zM1610 394h2v71h-2zM1613 394h1v71h-1zM1615 394h1v71h-1zM1619 394h2v71h-2zM1622 394h1v71h-1zM1625 394h4v71h-4zM1635 394h1v71h-1zM1638 394h1v71h-1zM1641 394h1v71h-1zM1644 394h1v71h-1zM1649 394h1v71h-1zM1651 394h1v71h-1zM1654 394h1v71h-1zM1656 394h1v71h-1zM1658 394h1v71h-1zM1661 394h1v71h-1zM1664 394h1v71h-1zM1667 394h8v71h-8zM1676 394h2v71h-2zM1679 394h16v71h-16zM1696 394h2v71h-2zM1699 394h1v71h-1zM1701 394h10v71h-10zM1712 394h11v71h-11zM1724 394h1v71h-1zM1726 394h1v71h-1zM1460 465h1v23h-1zM1504 465h1v23h-1zM1678 465h1v23h-1z" fill="#00f" shape-rendering="crispEdges"/><g font-size="11.00" text-anchor="middle" fill="#000"><text x="1378.0" y="511">11/19</text><text x="1378.0" y="523">00:00</text><text x="1421.8" y="511">11/19</text><text x="1421.8" y="523">03:00</text><text x="1465.5" y="511">11/19</text><text x="1465.5" y="523">06:00</text><text x="1509.2" y="511">11/19</text><text x="1509.2" y="523">09:00</text><text x="1553.0" y="511">11/19</text><text x="1553.0" y="523">12:00</text><text x="1596.8" y="511">11/19</text><text x="1596.8" y="523">15:00</text><text x="1640.5" y="511">11/19</text><text x="1640.5" y="523">18:00</text><text x="1684.2" y="511">11/19</text><text x="1684.2" y="523">21:00</text><text x="1728.0" y="511">11/20</text><text x="1728.0" y="523">00:00</text></g><g font-size="13.00" text-anchor="end" fill="#000" clip-path="url(#cp3)"><text x="1377.1" y="375.6">5</text><text x="1377.1" y="399.0">4.9</text><text x="1377.1" y="422.4">4.8</text><text x="1377.1" y="445.8">4.7</text><text x="1377.1" y="469.2">4.6</text><text x="1377.1" y="492.6">4.5</text></g><text transform="translate(1361.0 359.3) rotate(-90) scale(1 1.07)" font-size="13.20" text-anchor="end" fill="#000">ln/min</text><rect x="1730" y="359" width="56" height="140" fill="#0f0" shape-rendering="crispEdges"/><g font-size="10.78" font-weight="bold" text-anchor="middle" fill="#000"><text x="1757.8" y="397.9">MassFlow</text><text x="1757.8" y="468.9">4.7 ln/min</text></g></g>
<g><path d="M75.5 534V674M119.5 534V674M162.5 534V674M206.5 534V674M250.5 534V674M294.5 534V674M337.5 534V674" stroke="#000" stroke-width="1" stroke-dasharray="1 2" fill="none" shape-rendering="crispEdges"/><path d="M31 542.5H381M31 579.5H381M31 616.5H381M31 654.5H381" stroke="#000" stroke-width="1" stroke-dasharray="1 2" fill="none" shape-rendering="crispEdges"/><path d="M31.5 669V674M46.5 672V674M60.5 672V674M75.5 669V674M89.5 672V674M104.5 672V674M119.5 669V674M133.5 672V674M148.5 672V674M162.5 669V674M177.5 672V674M191.5 672V674M206.5 669V674M221.5 672V674M235.5 672V674M250.5 669V674M264.5 672V674M279.5 672V674M294.5 669V674M308.5 672V674M323.5 672V674M337.5 669V674M352.5 672V674M366.5 672V674M381.5 669V674M32 542.5H44M32 579.5H44M32 616.5H44M32 654.5H44M32 669.5H37M32 661.5H37M32 646.5H37M32 639.5H37M32 631.5H37M32 624.5H37M32 609.5H37M32 602.5H37M32 594.5H37M32 587.5H37M32 572.5H37M32 564.5H37M32 557.5H37M32 549.5H37M32 535.5H37" stroke="#000" stroke-width="1" fill="none" shape-rendering="crispEdges"/><rect x="31.5" y="534.5" width="350" height="140" fill="none" stroke="#000" stroke-width="1" shape-rendering="crispEdges"/><path d="M31 546h59v40h-59zM91 546h1v40h-1zM228 546h1v40h-1zM232 546h3v40h-3zM237 546h5v40h-5zM243 546h8v40h-8zM252 546h40v40h-40zM297 546h1v40h-1zM220 546h1v118h-1zM90 585h1v1h-1zM92 585h4v1h-4zM97 585h7v1h-7zM108 585h2v1h-2zM215 585h1v1h-1zM217 585h1v1h-1zM219 585h1v1h-1zM222 585h1v1h-1zM224 585h1v1h-1zM226 585h2v1h-2zM229 585h3v1h-3zM235 585h2v1h-2zM242 585h1v1h-1zM251 585h1v1h-1zM292 585h4v1h-4zM298 585h1v1h-1zM303 585h1v1h-1zM96 585h1v40h-1zM104 585h4v40h-4zM110 585h105v40h-105zM216 585h1v40h-1zM218 585h1v40h-1zM221 585h1v40h-1zM223 585h1v40h-1zM225 585h1v40h-1zM296 585h1v40h-1zM299 585h4v40h-4zM304 585h78v40h-78z" fill="#00f" shape-rendering="crispEdges"/><g font-size="11.00" text-anchor="middle" fill="#000"><text x="31.0" y="686">11/19</text><text x="31.0" y="698">00:00</text><text x="74.8" y="686">11/19</text><text x="74.8" y="698">03:00</text><text x="118.5" y="686">11/19</text><text x="118.5" y="698">06:00</text><text x="162.2" y="686">11/19</text><text x="162.2" y="698">09:00</text><text x="206.0" y="686">11/19</text><text x="206.0" y="698">12:00</text><text x="249.8" y="686">11/19</text><text x="249.8" y="698">15:00</text><text x="293.5" y="686">11/19</text><text x="293.5" y="698">18:00</text><text x="337.2" y="686">11/19</text><text x="337.2" y="698">21:00</text><text x="381.0" y="686">11/20</text><text x="381.0" y="698">00:00</text></g><g font-size="13.00" text-anchor="end" fill="#000" clip-path="url(#cp0)"><text x="30.1" y="547.0">−0.01</text><text x="30.1" y="584.2">−0.015</text><text x="30.1" y="621.5">−0.02</text><text x="30.1" y="658.7">−0.025</text></g><text transform="translate(14.0 534.3) rotate(-90) scale(1 1.07)" font-size="13.20" text-anchor="end" fill="#000">bar</text><rect x="383" y="534" width="56" height="140" fill="#0f0" shape-rendering="crispEdges"/><g font-size="10.65" font-weight="bold" text-anchor="middle" fill="#000"><text x="410.8" y="572.8">P_bin</text><text x="410.8" y="643.8">-0.021 bar</text></g></g>
<g><path d="M973.5 534V674M1017.5 534V674M1060.5 534V674M1104.5 534V674M1148.5 534V674M1192.5 534V674M1235.5 534V674" stroke="#000" stroke-width="1" stroke-dasharray="1 2" fill="none" shape-rendering="crispEdges"/><path d="M929 543.5H1279M929 570.5H1279M929 598.5H1279M929 625.5H1279M929 653.5H1279" stroke="#000" stroke-width="1" stroke-dasharray="1 2" fill="none" shape-rendering="crispEdges"/><path d="M929.5 669V674M944.5 672V674M958.5 672V674M973.5 669V674M987.5 672V674M1002.5 672V674M1017.5 669V674M1031.5 672V674M1046.5 672V674M1060.5 669V674M1075.5 672V674M1089.5 672V674M1104.5 669V674M1119.5 672V674M1133.5 672V674M1148.5 669V674M1162.5 672V674M1177.5 672V674M1192.5 669V674M1206.5 672V674M1221.5 672V674M1235.5 669V674M1250.5 672V674M1264.5 672V674M1279.5 669V674M930 543.5H942M930 570.5H942M930 598.5H942M930 625.5H942M930 653.5H942M930 669.5H935M930 664.5H935M930 658.5H935M930 647.5H935M930 642.5H935M930 636.5H935M930 631.5H935M930 620.5H935M930 614.5H935M930 609.5H935M930 603.5H935M930 592.5H935M930 587.5H935M930 581.5H935M930 576.5H935M930 565.5H935M930 559.5H935M930 554.5H935M930 548.5H935M930 538.5H935" stroke="#000" stroke-width="1" fill="none" shape-rendering="crispEdges"/><rect x="929.5" y="534.5" width="350" height="140" fill="none" stroke="#000" stroke-width="1" shape-rendering="crispEdges"/><path d="M1262 546h1v12h-1zM1268 556h1v30h-1zM1258 557h3v29h-3zM1262 557h2v29h-2zM1265 557h3v29h-3zM1231 557h8v34h-8zM1261 557h1v39h-1zM1264 557h1v39h-1zM1245 566h1v20h-1zM1238 568h7v18h-7zM1246 568h9v18h-9zM1268 568h12v18h-12zM1254 568h5v28h-5zM1015 568h1v56h-1zM1018 568h3v56h-3zM1023 568h1v56h-1zM1025 568h1v56h-1zM1028 568h1v56h-1zM929 571h1v31h-1zM933 571h1v31h-1zM1045 575h1v11h-1zM1085 575h1v11h-1zM1212 575h1v11h-1zM937 575h2v23h-2zM941 575h1v23h-1zM943 575h3v23h-3zM1223 575h1v37h-1zM1228 578h3v20h-3zM1224 578h4v34h-4zM1231 578h1v34h-1zM1016 580h2v44h-2zM1021 580h2v44h-2zM1024 580h1v44h-1zM1027 580h1v44h-1zM1026 580h1v45h-1zM1033 584h1v13h-1zM1043 584h1v13h-1zM1066 584h1v13h-1zM1028 585h5v12h-5zM1034 585h6v12h-6zM1041 585h2v12h-2zM1044 585h3v12h-3zM1048 585h14v12h-14zM1063 585h3v12h-3zM1067 585h14v12h-14zM1210 585h4v12h-4zM1215 585h9v12h-9zM935 585h2v13h-2zM939 585h2v13h-2zM942 585h1v13h-1zM1040 585h1v13h-1zM1047 585h1v13h-1zM1062 585h1v13h-1zM1081 585h1v13h-1zM930 585h3v17h-3zM934 585h2v17h-2zM1214 585h1v27h-1zM944 585h2v28h-2zM949 585h1v28h-1zM952 585h1v28h-1zM964 585h1v28h-1zM985 585h2v28h-2zM964 585h1v33h-1zM966 585h1v33h-1zM968 585h6v33h-6zM976 585h1v33h-1zM978 585h2v33h-2zM962 585h4v39h-4zM967 585h1v39h-1zM974 585h2v39h-2zM977 585h1v39h-1zM980 585h1v39h-1zM1081 585h5v40h-5zM1087 585h2v40h-2zM1086 585h1v45h-1zM1205 591h6v33h-6zM945 596h4v17h-4zM950 596h2v17h-2zM953 596h11v17h-11zM980 596h5v17h-5zM987 596h14v17h-14zM1002 596h1v17h-1zM1011 596h1v17h-1zM1095 596h1v17h-1zM1097 596h1v17h-1zM1100 596h3v17h-3zM1105 596h1v17h-1zM1014 596h1v28h-1zM1205 596h1v29h-1zM1103 596h1v30h-1zM1194 596h1v33h-1zM1197 596h1v33h-1zM1101 596h5v40h-5zM1198 606h7v19h-7zM1000 607h1v6h-1zM1003 607h6v6h-6zM1012 607h1v6h-1zM1094 607h1v6h-1zM1104 607h1v6h-1zM1001 607h1v17h-1zM1009 607h2v17h-2zM1013 607h1v17h-1zM1015 607h1v17h-1zM1088 607h7v18h-7zM1096 607h1v19h-1zM1098 607h2v19h-2zM1193 612h1v17h-1zM1195 612h2v17h-2zM1198 612h1v17h-1zM1105 612h6v39h-6zM1116 624h3v11h-3zM1122 624h2v11h-2zM1112 624h1v22h-1zM1115 624h1v22h-1zM1110 624h2v27h-2zM1113 624h3v27h-3zM1119 624h3v27h-3zM1124 624h6v27h-6zM1180 624h1v27h-1zM1185 624h1v27h-1zM1129 628h5v13h-5zM1173 629h7v22h-7zM1181 629h2v22h-2zM1184 629h1v22h-1zM1187 629h7v22h-7zM1141 629h2v23h-2zM1151 629h1v23h-1zM1154 629h1v23h-1zM1160 629h1v23h-1zM1183 629h1v34h-1zM1186 629h1v34h-1zM1133 635h4v28h-4zM1137 640h4v12h-4zM1143 640h1v12h-1zM1145 640h5v12h-5zM1152 640h1v12h-1zM1155 640h1v12h-1zM1157 640h3v12h-3zM1162 640h10v12h-10zM1173 640h1v12h-1zM1136 640h1v16h-1zM1144 640h1v16h-1zM1150 640h1v16h-1zM1153 640h1v16h-1zM1156 640h1v16h-1zM1161 640h1v16h-1zM1172 640h1v16h-1z" fill="#00f" shape-rendering="crispEdges"/><g font-size="11.00" text-anchor="middle" fill="#000"><text x="929.0" y="686">11/19</text><text x="929.0" y="698">00:00</text><text x="972.8" y="686">11/19</text><text x="972.8" y="698">03:00</text><text x="1016.5" y="686">11/19</text><text x="1016.5" y="698">06:00</text><text x="1060.2" y="686">11/19</text><text x="1060.2" y="698">09:00</text><text x="1104.0" y="686">11/19</text><text x="1104.0" y="698">12:00</text><text x="1147.8" y="686">11/19</text><text x="1147.8" y="698">15:00</text><text x="1191.5" y="686">11/19</text><text x="1191.5" y="698">18:00</text><text x="1235.2" y="686">11/19</text><text x="1235.2" y="698">21:00</text><text x="1279.0" y="686">11/20</text><text x="1279.0" y="698">00:00</text></g><g font-size="13.00" text-anchor="end" fill="#000" clip-path="url(#cp2)"><text x="928.1" y="548.0">−84</text><text x="928.1" y="575.4">-84.5</text><text x="928.1" y="602.9">−85</text><text x="928.1" y="630.3">-85.5</text><text x="928.1" y="657.8">−86</text></g><text transform="translate(910.3 534.3) rotate(-90) scale(1 1.07)" font-size="13.20" text-anchor="end" fill="#000">degC</text><rect x="1281" y="534" width="56" height="140" fill="#0f0" shape-rendering="crispEdges"/><g font-size="8.86" font-weight="bold" text-anchor="middle" fill="#000"><text x="1308.8" y="572.2">Dew_Point</text><text x="1308.8" y="642.6">-84.46 degC</text></g></g>
<g><path d="M1422.5 534V674M1466.5 534V674M1509.5 534V674M1553.5 534V674M1597.5 534V674M1641.5 534V674M1684.5 534V674" stroke="#000" stroke-width="1" stroke-dasharray="1 2" fill="none" shape-rendering="crispEdges"/><path d="M1378 543.5H1728M1378 565.5H1728M1378 587.5H1728M1378 610.5H1728M1378 632.5H1728M1378 654.5H1728" stroke="#000" stroke-width="1" stroke-dasharray="1 2" fill="none" shape-rendering="crispEdges"/><path d="M1378.5 669V674M1393.5 672V674M1407.5 672V674M1422.5 669V674M1436.5 672V674M1451.5 672V674M1466.5 669V674M1480.5 672V674M1495.5 672V674M1509.5 669V674M1524.5 672V674M1538.5 672V674M1553.5 669V674M1568.5 672V674M1582.5 672V674M1597.5 669V674M1611.5 672V674M1626.5 672V674M1641.5 669V674M1655.5 672V674M1670.5 672V674M1684.5 669V674M1699.5 672V674M1713.5 672V674M1728.5 669V674M1379 543.5H1391M1379 565.5H1391M1379 587.5H1391M1379 610.5H1391M1379 632.5H1391M1379 654.5H1391M1379 672.5H1384M1379 668.5H1384M1379 663.5H1384M1379 659.5H1384M1379 650.5H1384M1379 645.5H1384M1379 641.5H1384M1379 636.5H1384M1379 628.5H1384M1379 623.5H1384M1379 619.5H1384M1379 614.5H1384M1379 605.5H1384M1379 601.5H1384M1379 596.5H1384M1379 592.5H1384M1379 583.5H1384M1379 578.5H1384M1379 574.5H1384M1379 570.5H1384M1379 561.5H1384M1379 556.5H1384M1379 552.5H1384M1379 547.5H1384M1379 538.5H1384" stroke="#000" stroke-width="1" fill="none" shape-rendering="crispEdges"/><rect x="1378.5" y="534.5" width="350" height="140" fill="none" stroke="#000" stroke-width="1" shape-rendering="crispEdges"/><path d="M1378 546h61v71h-61zM1440 546h2v71h-2zM1443 546h6v71h-6zM1451 546h1v71h-1zM1453 546h1v71h-1zM1455 546h2v71h-2zM1459 546h1v71h-1zM1462 546h1v71h-1zM1569 546h1v71h-1zM1572 546h4v71h-4zM1577 546h64v71h-64zM1642 546h2v71h-2zM1645 546h1v71h-1zM1653 546h2v71h-2zM1439 546h1v94h-1zM1442 546h1v94h-1zM1449 546h1v94h-1zM1452 546h1v94h-1zM1454 546h1v94h-1zM1461 546h1v94h-1zM1472 546h1v94h-1zM1558 546h2v94h-2zM1561 546h1v94h-1zM1563 546h1v94h-1zM1566 546h2v94h-2zM1576 546h1v94h-1zM1641 546h1v94h-1zM1644 546h1v94h-1zM1649 546h1v94h-1zM1651 546h2v94h-2zM1450 569h1v48h-1zM1458 569h1v48h-1zM1560 569h1v48h-1zM1562 569h1v48h-1zM1565 569h1v48h-1zM1568 569h1v48h-1zM1570 569h1v48h-1zM1646 569h2v48h-2zM1658 569h1v48h-1zM1667 569h1v48h-1zM1457 569h1v71h-1zM1460 569h1v71h-1zM1463 569h9v71h-9zM1473 569h85v71h-85zM1564 569h1v71h-1zM1571 569h1v71h-1zM1648 569h1v71h-1zM1650 569h1v71h-1zM1655 569h3v71h-3zM1659 569h8v71h-8zM1668 569h59v71h-59zM1728 569h1v71h-1zM1727 569h1v95h-1z" fill="#00f" shape-rendering="crispEdges"/><g font-size="11.00" text-anchor="middle" fill="#000"><text x="1378.0" y="686">11/19</text><text x="1378.0" y="698">00:00</text><text x="1421.8" y="686">11/19</text><text x="1421.8" y="698">03:00</text><text x="1465.5" y="686">11/19</text><text x="1465.5" y="698">06:00</text><text x="1509.2" y="686">11/19</text><text x="1509.2" y="698">09:00</text><text x="1553.0" y="686">11/19</text><text x="1553.0" y="698">12:00</text><text x="1596.8" y="686">11/19</text><text x="1596.8" y="698">15:00</text><text x="1640.5" y="686">11/19</text><text x="1640.5" y="698">18:00</text><text x="1684.2" y="686">11/19</text><text x="1684.2" y="698">21:00</text><text x="1728.0" y="686">11/20</text><text x="1728.0" y="698">00:00</text></g><g font-size="13.00" text-anchor="end" fill="#000" clip-path="url(#cp3)"><text x="1377.1" y="547.8">0.51</text><text x="1377.1" y="570.1">0.505</text><text x="1377.1" y="592.4">0.5</text><text x="1377.1" y="614.7">0.495</text><text x="1377.1" y="637.0">0.49</text><text x="1377.1" y="659.2">0.485</text></g><text transform="translate(1361.0 534.3) rotate(-90) scale(1 1.07)" font-size="13.20" text-anchor="end" fill="#000">bar</text><rect x="1730" y="534" width="56" height="140" fill="#0f0" shape-rendering="crispEdges"/><g font-size="8.88" font-weight="bold" text-anchor="middle" fill="#000"><text x="1757.8" y="572.2">P_DewPoint</text><text x="1757.8" y="643.2">0.49875 bar</text></g></g>
<g><path d="M524.5 710V850M568.5 710V850M611.5 710V850M655.5 710V850M699.5 710V850M743.5 710V850M786.5 710V850" stroke="#000" stroke-width="1" stroke-dasharray="1 2" fill="none" shape-rendering="crispEdges"/><path d="M480 725.5H830M480 750.5H830M480 774.5H830M480 799.5H830M480 824.5H830M480 848.5H830" stroke="#000" stroke-width="1" stroke-dasharray="1 2" fill="none" shape-rendering="crispEdges"/><path d="M480.5 845V850M495.5 848V850M509.5 848V850M524.5 845V850M538.5 848V850M553.5 848V850M568.5 845V850M582.5 848V850M597.5 848V850M611.5 845V850M626.5 848V850M640.5 848V850M655.5 845V850M670.5 848V850M684.5 848V850M699.5 845V850M713.5 848V850M728.5 848V850M743.5 845V850M757.5 848V850M772.5 848V850M786.5 845V850M801.5 848V850M815.5 848V850M830.5 845V850M481 725.5H493M481 750.5H493M481 774.5H493M481 799.5H493M481 824.5H493M481 848.5H493M481 842.5H486M481 836.5H486M481 830.5H486M481 817.5H486M481 811.5H486M481 805.5H486M481 793.5H486M481 787.5H486M481 780.5H486M481 768.5H486M481 762.5H486M481 756.5H486M481 744.5H486M481 737.5H486M481 731.5H486M481 719.5H486M481 713.5H486" stroke="#000" stroke-width="1" fill="none" shape-rendering="crispEdges"/><rect x="480.5" y="710.5" width="350" height="140" fill="none" stroke="#000" stroke-width="1" shape-rendering="crispEdges"/><path d="M743 720h1v13h-1zM799 720h1v14h-1zM763 720h1v16h-1zM794 721h1v11h-1zM744 721h1v13h-1zM796 722h1v7h-1zM736 722h1v11h-1zM740 722h1v11h-1zM764 722h1v12h-1zM745 722h1v15h-1zM790 722h1v16h-1zM791 723h1v10h-1zM800 723h1v10h-1zM738 723h1v11h-1zM737 723h1v12h-1zM731 723h1v16h-1zM797 724h1v5h-1zM742 724h1v10h-1zM802 724h1v10h-1zM761 724h1v11h-1zM765 724h1v12h-1zM803 724h1v12h-1zM795 725h1v5h-1zM830 725h1v5h-1zM734 725h1v7h-1zM733 725h1v8h-1zM801 725h1v8h-1zM762 725h1v9h-1zM792 725h1v9h-1zM741 725h1v10h-1zM828 725h1v10h-1zM781 725h1v12h-1zM780 725h1v13h-1zM739 726h1v4h-1zM798 726h1v4h-1zM735 726h1v9h-1zM793 726h1v9h-1zM778 726h1v10h-1zM746 726h1v12h-1zM760 726h1v13h-1zM757 726h1v14h-1zM759 726h1v14h-1zM747 726h1v15h-1zM753 726h1v15h-1zM783 726h1v15h-1zM732 727h1v6h-1zM829 727h1v8h-1zM805 727h1v10h-1zM772 727h1v11h-1zM756 727h1v12h-1zM819 727h1v12h-1zM789 727h1v13h-1zM766 727h1v14h-1zM820 727h1v14h-1zM776 727h1v15h-1zM804 728h1v5h-1zM779 728h1v7h-1zM774 728h1v8h-1zM810 728h1v8h-1zM816 728h1v9h-1zM824 728h1v9h-1zM782 728h1v10h-1zM773 728h1v12h-1zM818 728h1v13h-1zM807 729h1v7h-1zM811 729h1v7h-1zM808 729h1v8h-1zM825 729h1v8h-1zM823 729h1v9h-1zM826 729h1v9h-1zM681 729h1v14h-1zM806 730h1v4h-1zM754 730h1v6h-1zM775 730h1v6h-1zM755 730h1v10h-1zM777 730h1v11h-1zM822 730h1v11h-1zM748 730h1v12h-1zM784 730h1v12h-1zM787 730h1v12h-1zM529 730h1v13h-1zM616 730h1v67h-1zM809 731h1v4h-1zM531 731h1v8h-1zM786 731h1v8h-1zM821 731h1v8h-1zM827 731h1v8h-1zM678 731h1v9h-1zM788 731h1v9h-1zM682 731h1v10h-1zM770 731h1v11h-1zM771 731h1v12h-1zM750 731h1v13h-1zM730 731h1v14h-1zM752 731h1v15h-1zM683 731h1v17h-1zM691 731h1v18h-1zM812 731h1v37h-1zM758 732h1v4h-1zM530 732h1v6h-1zM680 732h1v6h-1zM817 732h1v9h-1zM532 732h1v10h-1zM679 733h1v8h-1zM597 733h1v9h-1zM749 733h1v9h-1zM769 733h1v10h-1zM598 733h1v11h-1zM688 733h1v16h-1zM533 733h1v63h-1zM815 734h1v9h-1zM625 734h1v11h-1zM677 734h1v12h-1zM751 734h1v13h-1zM785 735h1v6h-1zM619 735h1v9h-1zM599 735h1v10h-1zM692 735h1v11h-1zM693 735h1v13h-1zM601 735h1v31h-1zM767 735h1v44h-1zM600 736h1v5h-1zM814 736h1v5h-1zM596 736h1v7h-1zM623 736h1v7h-1zM528 736h1v9h-1zM729 736h1v13h-1zM618 736h1v15h-1zM622 737h1v8h-1zM689 737h1v8h-1zM624 737h1v10h-1zM690 737h1v11h-1zM695 737h1v19h-1zM813 737h1v46h-1zM768 737h1v65h-1zM626 738h1v6h-1zM621 738h1v7h-1zM620 738h1v10h-1zM687 738h1v15h-1zM684 738h1v23h-1zM713 738h1v38h-1zM595 739h1v7h-1zM627 739h1v8h-1zM728 739h1v12h-1zM617 739h1v13h-1zM676 739h1v16h-1zM527 740h1v8h-1zM569 740h1v8h-1zM568 740h1v9h-1zM727 740h1v13h-1zM694 740h1v14h-1zM480 740h1v31h-1zM566 741h1v9h-1zM575 741h1v9h-1zM571 741h1v10h-1zM565 741h1v11h-1zM696 741h1v13h-1zM697 741h1v16h-1zM526 742h1v8h-1zM564 742h1v10h-1zM563 742h1v11h-1zM594 742h1v15h-1zM712 742h1v38h-1zM572 743h1v6h-1zM570 743h1v9h-1zM628 743h1v9h-1zM655 743h1v14h-1zM573 744h1v7h-1zM654 744h1v11h-1zM629 744h1v12h-1zM686 744h1v13h-1zM574 745h1v4h-1zM567 745h1v6h-1zM525 745h1v8h-1zM726 745h1v10h-1zM505 745h1v18h-1zM656 745h1v18h-1zM703 745h1v18h-1zM698 745h1v24h-1zM576 745h1v48h-1zM524 746h1v6h-1zM634 746h1v11h-1zM675 746h1v12h-1zM700 746h1v17h-1zM562 747h1v10h-1zM723 747h1v10h-1zM701 747h1v12h-1zM643 747h1v15h-1zM523 748h1v6h-1zM636 748h1v8h-1zM642 748h1v11h-1zM637 748h1v12h-1zM641 748h1v12h-1zM638 748h1v13h-1zM630 748h1v47h-1zM632 748h1v49h-1zM724 749h1v4h-1zM722 749h1v6h-1zM635 749h1v7h-1zM720 749h1v7h-1zM725 749h1v7h-1zM633 749h1v8h-1zM653 749h1v8h-1zM702 749h1v9h-1zM640 749h1v14h-1zM674 749h1v16h-1zM644 749h1v19h-1zM704 749h1v21h-1zM706 749h1v23h-1zM718 749h1v41h-1zM652 749h1v52h-1zM721 750h1v5h-1zM719 750h1v6h-1zM664 750h1v11h-1zM663 750h1v12h-1zM685 750h1v22h-1zM666 750h1v30h-1zM522 751h1v8h-1zM671 751h1v32h-1zM521 751h1v42h-1zM593 751h1v77h-1zM657 752h1v27h-1zM639 753h1v9h-1zM561 753h1v22h-1zM614 753h1v72h-1zM662 755h1v13h-1zM707 755h1v17h-1zM665 756h1v10h-1zM705 757h1v15h-1zM672 757h1v45h-1zM504 757h1v49h-1zM670 758h1v26h-1zM645 758h1v33h-1zM661 759h1v22h-1zM699 759h1v22h-1zM673 759h1v40h-1zM506 759h1v54h-1zM611 760h1v48h-1zM610 760h1v66h-1zM708 761h1v17h-1zM658 761h1v24h-1zM602 761h1v46h-1zM715 765h1v18h-1zM714 765h1v20h-1zM709 765h1v22h-1zM669 768h1v33h-1zM481 768h1v39h-1zM560 768h1v70h-1zM667 769h1v26h-1zM659 771h1v18h-1zM711 772h1v26h-1zM648 772h1v28h-1zM660 773h1v15h-1zM612 773h1v39h-1zM716 773h1v43h-1zM613 775h1v45h-1zM647 777h1v32h-1zM668 778h1v17h-1zM615 778h1v38h-1zM710 779h1v23h-1zM649 779h1v26h-1zM646 780h1v27h-1zM717 785h1v38h-1zM577 787h1v38h-1zM520 789h1v42h-1zM631 790h1v6h-1zM650 790h1v17h-1zM534 793h1v25h-1zM651 795h1v9h-1zM503 801h1v30h-1zM603 802h1v19h-1zM482 804h1v22h-1zM507 806h1v20h-1zM535 812h1v17h-1zM604 813h1v15h-1zM609 815h1v20h-1zM605 817h1v15h-1zM606 819h1v18h-1zM578 821h1v11h-1zM508 822h1v7h-1zM483 822h1v11h-1zM536 824h1v8h-1zM592 824h1v12h-1zM548 824h1v14h-1zM509 825h1v7h-1zM519 825h1v12h-1zM517 826h1v8h-1zM510 826h1v9h-1zM513 826h1v10h-1zM516 826h1v10h-1zM502 826h1v11h-1zM607 827h1v7h-1zM608 827h1v8h-1zM512 827h1v10h-1zM514 827h1v11h-1zM537 828h1v9h-1zM484 829h1v5h-1zM518 829h1v6h-1zM579 829h1v6h-1zM511 829h1v8h-1zM485 830h1v6h-1zM515 830h1v7h-1zM549 831h1v5h-1zM580 831h1v5h-1zM486 831h2v7h-2zM491 831h1v7h-1zM538 831h2v7h-2zM546 831h1v7h-1zM550 831h1v7h-1zM544 832h1v4h-1zM489 832h1v5h-1zM497 832h1v5h-1zM499 832h1v5h-1zM540 832h1v5h-1zM554 832h1v5h-1zM556 832h1v5h-1zM500 832h1v6h-1zM542 832h1v6h-1zM557 832h1v6h-1zM586 832h1v6h-1zM559 832h1v7h-1zM588 832h1v7h-1zM590 832h1v7h-1zM488 833h1v3h-1zM558 833h1v3h-1zM492 833h1v4h-1zM547 833h1v4h-1zM552 833h1v4h-1zM490 833h1v5h-1zM494 833h3v5h-3zM545 833h1v5h-1zM581 833h2v5h-2zM583 833h2v6h-2zM553 834h1v2h-1zM498 834h1v3h-1zM501 834h1v3h-1zM543 834h1v3h-1zM551 834h1v3h-1zM587 834h1v3h-1zM589 834h1v3h-1zM541 834h1v4h-1zM555 834h1v4h-1zM585 834h1v4h-1zM591 834h1v4h-1zM493 834h1v5h-1z" fill="#00f" shape-rendering="crispEdges"/><g font-size="11.00" text-anchor="middle" fill="#000"><text x="480.0" y="861">11/19</text><text x="480.0" y="873">00:00</text><text x="523.8" y="861">11/19</text><text x="523.8" y="873">03:00</text><text x="567.5" y="861">11/19</text><text x="567.5" y="873">06:00</text><text x="611.2" y="861">11/19</text><text x="611.2" y="873">09:00</text><text x="655.0" y="861">11/19</text><text x="655.0" y="873">12:00</text><text x="698.8" y="861">11/19</text><text x="698.8" y="873">15:00</text><text x="742.5" y="861">11/19</text><text x="742.5" y="873">18:00</text><text x="786.2" y="861">11/19</text><text x="786.2" y="873">21:00</text><text x="830.0" y="861">11/20</text><text x="830.0" y="873">00:00</text></g><g font-size="13.00" text-anchor="end" fill="#000" clip-path="url(#cp1)"><text x="479.1" y="730.0">86</text><text x="479.1" y="754.7">84</text><text x="479.1" y="779.3">82</text><text x="479.1" y="803.9">80</text><text x="479.1" y="828.5">78</text><text x="479.1" y="853.1">76</text></g><text transform="translate(463.0 710.3) rotate(-90) scale(1 1.07)" font-size="13.20" text-anchor="end" fill="#000">K</text><rect x="832" y="710" width="56" height="140" fill="#0f0" shape-rendering="crispEdges"/><g font-size="7.92" font-weight="bold" text-anchor="middle" fill="#000"><text x="859.8" y="747.8">T_bin_bottom</text><text x="859.8" y="818.8">85.82 K</text></g></g>
<g><path d="M973.5 710V850M1017.5 710V850M1060.5 710V850M1104.5 710V850M1148.5 710V850M1192.5 710V850M1235.5 710V850" stroke="#000" stroke-width="1" stroke-dasharray="1 2" fill="none" shape-rendering="crispEdges"/><path d="M929 731.5H1279M929 754.5H1279M929 777.5H1279M929 801.5H1279M929 824.5H1279M929 847.5H1279" stroke="#000" stroke-width="1" stroke-dasharray="1 2" fill="none" shape-rendering="crispEdges"/><path d="M929.5 845V850M944.5 848V850M958.5 848V850M973.5 845V850M987.5 848V850M1002.5 848V850M1017.5 845V850M1031.5 848V850M1046.5 848V850M1060.5 845V850M1075.5 848V850M1089.5 848V850M1104.5 845V850M1119.5 848V850M1133.5 848V850M1148.5 845V850M1162.5 848V850M1177.5 848V850M1192.5 845V850M1206.5 848V850M1221.5 848V850M1235.5 845V850M1250.5 848V850M1264.5 848V850M1279.5 845V850M930 731.5H942M930 754.5H942M930 777.5H942M930 801.5H942M930 824.5H942M930 847.5H942M930 842.5H935M930 838.5H935M930 833.5H935M930 828.5H935M930 819.5H935M930 814.5H935M930 810.5H935M930 805.5H935M930 796.5H935M930 791.5H935M930 787.5H935M930 782.5H935M930 773.5H935M930 768.5H935M930 763.5H935M930 759.5H935M930 749.5H935M930 745.5H935M930 740.5H935M930 736.5H935M930 726.5H935M930 722.5H935M930 717.5H935M930 712.5H935" stroke="#000" stroke-width="1" fill="none" shape-rendering="crispEdges"/><rect x="929.5" y="710.5" width="350" height="140" fill="none" stroke="#000" stroke-width="1" shape-rendering="crispEdges"/><path d="M1169 717h1v33h-1zM1175 717h1v33h-1zM1183 717h1v33h-1zM1187 717h1v33h-1zM1173 722h2v28h-2zM1176 722h5v28h-5zM1182 722h1v28h-1zM1184 722h3v28h-3zM1170 722h3v32h-3zM1181 722h1v32h-1zM1188 722h1v32h-1zM1168 722h1v37h-1zM1191 722h1v37h-1zM1190 722h1v42h-1zM1164 727h2v27h-2zM1162 727h1v32h-1zM1166 727h2v32h-2zM1189 727h1v32h-1zM1163 731h1v28h-1zM1153 731h1v33h-1zM1158 731h1v33h-1zM1161 731h1v33h-1zM1192 731h2v33h-2zM1148 731h1v37h-1zM1152 731h1v37h-1zM1156 731h1v37h-1zM1154 736h2v28h-2zM1157 736h1v28h-1zM1159 736h1v28h-1zM1138 736h10v32h-10zM1149 736h3v32h-3zM1160 736h1v32h-1zM1194 736h1v32h-1zM1196 736h1v32h-1zM1195 736h1v37h-1zM1131 741h2v27h-2zM1134 741h4v27h-4zM1197 741h1v27h-1zM1130 741h1v32h-1zM1133 741h1v32h-1zM1198 741h1v32h-1zM1123 741h1v37h-1zM1129 741h1v37h-1zM1203 741h1v37h-1zM1127 745h1v28h-1zM1199 745h3v28h-3zM1121 745h2v33h-2zM1124 745h3v33h-3zM1128 745h1v33h-1zM1202 745h1v33h-1zM1204 745h2v33h-2zM1114 745h1v37h-1zM1117 745h2v37h-2zM1120 750h1v28h-1zM1115 750h2v32h-2zM1206 750h1v32h-1zM1208 750h3v32h-3zM1112 750h2v37h-2zM1119 750h1v37h-1zM1207 750h1v37h-1zM1214 750h1v37h-1zM1211 754h2v28h-2zM1111 754h1v33h-1zM1213 754h1v33h-1zM1216 754h2v33h-2zM1220 754h1v33h-1zM1215 759h1v28h-1zM1219 759h1v28h-1zM1222 759h1v28h-1zM1110 759h1v33h-1zM1218 759h1v33h-1zM1224 759h1v33h-1zM1227 759h1v33h-1zM1109 759h1v37h-1zM1107 764h2v28h-2zM1221 764h1v28h-1zM1223 764h1v28h-1zM1225 764h2v28h-2zM1229 764h4v28h-4zM1106 764h1v32h-1zM1228 764h1v32h-1zM1233 768h3v24h-3zM1104 768h2v28h-2zM1236 768h3v28h-3zM1240 768h1v28h-1zM1243 768h1v28h-1zM1239 768h1v33h-1zM1244 768h1v33h-1zM1246 768h2v33h-2zM1251 768h1v33h-1zM1245 768h1v38h-1zM1241 773h2v23h-2zM1102 773h2v28h-2zM1248 773h1v28h-1zM1252 773h1v28h-1zM929 773h1v33h-1zM931 773h1v33h-1zM935 773h1v33h-1zM937 773h1v33h-1zM1249 773h2v33h-2zM1258 773h2v33h-2zM940 773h3v37h-3zM950 773h2v37h-2zM1257 773h1v37h-1zM948 773h1v42h-1zM930 778h1v28h-1zM932 778h3v28h-3zM936 778h1v28h-1zM1100 778h1v28h-1zM1253 778h4v28h-4zM1261 778h1v28h-1zM938 778h2v32h-2zM943 778h3v32h-3zM947 778h1v32h-1zM949 778h1v32h-1zM1097 778h1v32h-1zM1099 778h1v32h-1zM1101 778h1v32h-1zM1260 778h1v32h-1zM1262 778h3v32h-3zM946 778h1v37h-1zM952 778h4v37h-4zM957 778h2v37h-2zM965 778h1v37h-1zM1098 778h1v37h-1zM1266 778h1v37h-1zM1268 778h1v37h-1zM956 778h1v42h-1zM963 778h1v42h-1zM1273 778h1v42h-1zM1265 782h1v28h-1zM1267 782h1v28h-1zM1270 782h2v28h-2zM959 782h1v33h-1zM961 782h2v33h-2zM964 782h1v33h-1zM966 782h2v33h-2zM971 782h2v33h-2zM1269 782h1v33h-1zM1272 782h1v33h-1zM960 782h1v38h-1zM976 782h2v38h-2zM1279 782h1v38h-1zM968 787h1v28h-1zM970 787h1v28h-1zM973 787h3v28h-3zM1094 787h1v28h-1zM1274 787h1v28h-1zM1276 787h2v28h-2zM969 787h1v33h-1zM978 787h2v33h-2zM989 787h1v33h-1zM992 787h1v33h-1zM1090 787h1v33h-1zM1093 787h1v33h-1zM1095 787h2v33h-2zM1275 787h1v33h-1zM1278 787h1v33h-1zM991 787h1v37h-1zM993 787h1v37h-1zM1087 787h2v37h-2zM980 792h9v28h-9zM990 792h1v28h-1zM1089 792h1v28h-1zM1091 792h2v28h-2zM994 792h1v32h-1zM996 792h1v32h-1zM1004 792h2v32h-2zM1007 792h1v32h-1zM1083 792h1v32h-1zM1085 792h2v32h-2zM998 792h1v37h-1zM1009 792h1v37h-1zM1078 792h1v37h-1zM995 796h1v28h-1zM1000 796h4v28h-4zM1006 796h1v28h-1zM1079 796h4v28h-4zM1084 796h1v28h-1zM997 796h1v33h-1zM999 796h1v33h-1zM1008 796h1v33h-1zM1014 796h1v33h-1zM1019 796h1v33h-1zM1072 796h3v33h-3zM1010 801h2v28h-2zM1013 801h1v28h-1zM1016 801h3v28h-3zM1076 801h2v28h-2zM1012 801h1v33h-1zM1015 801h1v33h-1zM1031 801h1v33h-1zM1060 801h2v33h-2zM1070 801h2v33h-2zM1075 801h1v33h-1zM1020 801h1v37h-1zM1026 801h1v37h-1zM1035 801h1v37h-1zM1038 801h2v37h-2zM1041 801h1v37h-1zM1053 801h3v37h-3zM1062 801h1v37h-1zM1021 806h5v28h-5zM1027 806h4v28h-4zM1032 806h3v28h-3zM1036 806h2v28h-2zM1058 806h2v28h-2zM1063 806h7v28h-7zM1040 806h1v32h-1zM1043 806h4v32h-4zM1048 806h5v32h-5zM1057 806h1v32h-1zM1042 806h1v37h-1zM1047 806h1v37h-1zM1056 806h1v37h-1z" fill="#00f" shape-rendering="crispEdges"/><g font-size="11.00" text-anchor="middle" fill="#000"><text x="929.0" y="861">11/19</text><text x="929.0" y="873">00:00</text><text x="972.8" y="861">11/19</text><text x="972.8" y="873">03:00</text><text x="1016.5" y="861">11/19</text><text x="1016.5" y="873">06:00</text><text x="1060.2" y="861">11/19</text><text x="1060.2" y="873">09:00</text><text x="1104.0" y="861">11/19</text><text x="1104.0" y="873">12:00</text><text x="1147.8" y="861">11/19</text><text x="1147.8" y="873">15:00</text><text x="1191.5" y="861">11/19</text><text x="1191.5" y="873">18:00</text><text x="1235.2" y="861">11/19</text><text x="1235.2" y="873">21:00</text><text x="1279.0" y="861">11/20</text><text x="1279.0" y="873">00:00</text></g><g font-size="13.00" text-anchor="end" fill="#000" clip-path="url(#cp2)"><text x="928.1" y="735.9">44.5</text><text x="928.1" y="759.1">44</text><text x="928.1" y="782.3">43.5</text><text x="928.1" y="805.5">43</text><text x="928.1" y="828.7">42.5</text><text x="928.1" y="852.0">42</text></g><text transform="translate(910.3 710.3) rotate(-90) scale(1 1.07)" font-size="13.20" text-anchor="end" fill="#000">degC</text><rect x="1281" y="710" width="56" height="140" fill="#0f0" shape-rendering="crispEdges"/><g font-size="10.70" font-weight="bold" text-anchor="middle" fill="#000"><text x="1308.8" y="748.8">T_pump</text><text x="1308.8" y="819.2">43.2 degC</text></g></g>
<g><path d="M1422.5 710V850M1466.5 710V850M1509.5 710V850M1553.5 710V850M1597.5 710V850M1641.5 710V850M1684.5 710V850" stroke="#000" stroke-width="1" stroke-dasharray="1 2" fill="none" shape-rendering="crispEdges"/><path d="M1378 731.5H1728M1378 754.5H1728M1378 777.5H1728M1378 801.5H1728M1378 824.5H1728M1378 847.5H1728" stroke="#000" stroke-width="1" stroke-dasharray="1 2" fill="none" shape-rendering="crispEdges"/><path d="M1378.5 845V850M1393.5 848V850M1407.5 848V850M1422.5 845V850M1436.5 848V850M1451.5 848V850M1466.5 845V850M1480.5 848V850M1495.5 848V850M1509.5 845V850M1524.5 848V850M1538.5 848V850M1553.5 845V850M1568.5 848V850M1582.5 848V850M1597.5 845V850M1611.5 848V850M1626.5 848V850M1641.5 845V850M1655.5 848V850M1670.5 848V850M1684.5 845V850M1699.5 848V850M1713.5 848V850M1728.5 845V850M1379 731.5H1391M1379 754.5H1391M1379 777.5H1391M1379 801.5H1391M1379 824.5H1391M1379 847.5H1391M1379 842.5H1384M1379 838.5H1384M1379 833.5H1384M1379 828.5H1384M1379 819.5H1384M1379 814.5H1384M1379 810.5H1384M1379 805.5H1384M1379 796.5H1384M1379 791.5H1384M1379 787.5H1384M1379 782.5H1384M1379 773.5H1384M1379 768.5H1384M1379 763.5H1384M1379 759.5H1384M1379 749.5H1384M1379 745.5H1384M1379 740.5H1384M1379 736.5H1384M1379 726.5H1384M1379 722.5H1384M1379 717.5H1384M1379 712.5H1384" stroke="#000" stroke-width="1" fill="none" shape-rendering="crispEdges"/><rect x="1378.5" y="710.5" width="350" height="140" fill="none" stroke="#000" stroke-width="1" shape-rendering="crispEdges"/><path d="M1620 722h1v32h-1zM1629 722h1v32h-1zM1613 722h1v37h-1zM1615 722h1v37h-1zM1618 722h1v37h-1zM1621 727h2v27h-2zM1624 727h1v27h-1zM1626 727h2v27h-2zM1630 727h2v27h-2zM1633 727h1v27h-1zM1614 727h1v32h-1zM1619 727h1v32h-1zM1623 727h1v32h-1zM1625 727h1v32h-1zM1628 727h1v32h-1zM1632 727h1v32h-1zM1601 727h1v37h-1zM1610 731h3v28h-3zM1616 731h2v28h-2zM1634 731h2v28h-2zM1602 731h1v33h-1zM1608 731h2v33h-2zM1637 731h1v33h-1zM1592 731h1v37h-1zM1605 731h1v37h-1zM1636 731h1v42h-1zM1599 736h2v28h-2zM1603 736h2v28h-2zM1606 736h2v28h-2zM1594 736h1v32h-1zM1596 736h1v32h-1zM1638 736h1v32h-1zM1587 736h1v37h-1zM1586 736h1v42h-1zM1588 736h1v42h-1zM1640 736h1v42h-1zM1593 741h1v27h-1zM1595 741h1v27h-1zM1597 741h2v27h-2zM1585 741h1v32h-1zM1590 741h2v32h-2zM1589 741h1v37h-1zM1639 741h1v37h-1zM1642 741h1v41h-1zM1580 745h1v33h-1zM1583 745h2v33h-2zM1641 745h1v37h-1zM1644 745h2v42h-2zM1579 750h1v28h-1zM1581 750h2v28h-2zM1643 750h1v32h-1zM1647 750h2v37h-2zM1576 754h3v28h-3zM1568 754h1v33h-1zM1571 754h1v33h-1zM1575 754h1v33h-1zM1646 754h1v33h-1zM1574 754h1v38h-1zM1652 754h1v38h-1zM1570 759h1v28h-1zM1572 759h2v28h-2zM1559 759h1v33h-1zM1565 759h1v33h-1zM1569 759h1v33h-1zM1649 759h3v33h-3zM1558 759h1v37h-1zM1567 759h1v37h-1zM1653 759h4v37h-4zM1396 759h1v47h-1zM1560 764h5v28h-5zM1381 764h1v32h-1zM1383 764h1v32h-1zM1385 764h1v32h-1zM1555 764h1v32h-1zM1557 764h1v32h-1zM1566 764h1v32h-1zM1379 764h2v37h-2zM1389 764h1v37h-1zM1397 764h1v37h-1zM1399 764h1v37h-1zM1406 764h1v37h-1zM1378 764h1v42h-1zM1401 764h1v42h-1zM1382 768h1v28h-1zM1384 768h1v28h-1zM1554 768h1v28h-1zM1556 768h1v28h-1zM1657 768h3v28h-3zM1386 768h1v33h-1zM1388 768h1v33h-1zM1391 768h5v33h-5zM1398 768h1v33h-1zM1402 768h2v33h-2zM1405 768h1v33h-1zM1407 768h1v33h-1zM1660 768h2v33h-2zM1663 768h1v33h-1zM1387 768h1v38h-1zM1390 768h1v38h-1zM1400 768h1v38h-1zM1404 768h1v38h-1zM1415 768h1v38h-1zM1419 768h1v38h-1zM1553 768h1v38h-1zM1430 768h1v42h-1zM1685 768h1v42h-1zM1551 773h1v28h-1zM1664 773h1v28h-1zM1666 773h1v28h-1zM1668 773h1v28h-1zM1670 773h1v28h-1zM1408 773h1v33h-1zM1410 773h1v33h-1zM1412 773h3v33h-3zM1417 773h1v33h-1zM1420 773h2v33h-2zM1550 773h1v33h-1zM1552 773h1v33h-1zM1662 773h1v33h-1zM1665 773h1v33h-1zM1667 773h1v33h-1zM1669 773h1v33h-1zM1671 773h1v33h-1zM1673 773h1v33h-1zM1677 773h1v33h-1zM1681 773h3v33h-3zM1409 773h1v37h-1zM1411 773h1v37h-1zM1416 773h1v37h-1zM1418 773h1v37h-1zM1422 773h1v37h-1zM1433 773h1v37h-1zM1686 773h1v37h-1zM1693 773h1v37h-1zM1436 773h1v42h-1zM1447 773h1v42h-1zM1423 773h1v47h-1zM1549 778h1v28h-1zM1672 778h1v28h-1zM1674 778h1v28h-1zM1676 778h1v28h-1zM1678 778h3v28h-3zM1684 778h1v28h-1zM1424 778h6v32h-6zM1431 778h1v32h-1zM1548 778h1v32h-1zM1675 778h1v32h-1zM1687 778h3v32h-3zM1692 778h1v32h-1zM1432 778h1v37h-1zM1434 778h2v37h-2zM1440 778h1v37h-1zM1443 778h1v37h-1zM1448 778h1v37h-1zM1691 778h1v37h-1zM1438 778h1v42h-1zM1452 778h1v42h-1zM1455 778h1v42h-1zM1460 778h2v42h-2zM1463 778h2v42h-2zM1697 778h1v42h-1zM1703 778h1v42h-1zM1459 778h1v46h-1zM1467 778h1v46h-1zM1477 778h1v46h-1zM1481 778h1v46h-1zM1546 782h2v28h-2zM1695 782h2v28h-2zM1437 782h1v33h-1zM1439 782h1v33h-1zM1441 782h1v33h-1zM1444 782h3v33h-3zM1690 782h1v33h-1zM1694 782h1v33h-1zM1698 782h3v33h-3zM1442 782h1v38h-1zM1449 782h3v38h-3zM1454 782h1v38h-1zM1456 782h3v38h-3zM1462 782h1v38h-1zM1465 782h2v38h-2zM1705 782h1v38h-1zM1709 782h1v38h-1zM1453 782h1v42h-1zM1468 782h1v42h-1zM1476 782h1v42h-1zM1545 787h1v28h-1zM1701 787h1v28h-1zM1469 787h4v33h-4zM1544 787h1v33h-1zM1702 787h1v33h-1zM1704 787h1v33h-1zM1706 787h1v33h-1zM1710 787h1v33h-1zM1473 787h3v37h-3zM1479 787h2v37h-2zM1494 787h1v37h-1zM1497 787h1v37h-1zM1500 787h1v37h-1zM1511 787h1v37h-1zM1708 787h1v37h-1zM1711 787h2v37h-2zM1714 787h2v37h-2zM1720 787h1v37h-1zM1722 787h1v37h-1zM1478 787h1v42h-1zM1489 787h1v42h-1zM1707 787h1v42h-1zM1719 787h1v42h-1zM1723 787h1v47h-1zM1482 792h3v32h-3zM1486 792h3v32h-3zM1490 792h4v32h-4zM1496 792h1v32h-1zM1499 792h1v32h-1zM1501 792h9v32h-9zM1512 792h1v32h-1zM1514 792h2v32h-2zM1539 792h1v32h-1zM1541 792h1v32h-1zM1543 792h1v32h-1zM1713 792h1v32h-1zM1716 792h1v32h-1zM1718 792h1v32h-1zM1721 792h1v32h-1zM1485 792h1v37h-1zM1495 792h1v37h-1zM1498 792h1v37h-1zM1510 792h1v37h-1zM1513 792h1v37h-1zM1534 792h1v37h-1zM1717 792h1v37h-1zM1724 792h1v37h-1zM1531 792h1v42h-1zM1728 792h1v42h-1zM1538 796h1v28h-1zM1542 796h1v28h-1zM1516 796h2v33h-2zM1519 796h1v33h-1zM1533 796h1v33h-1zM1537 796h1v33h-1zM1540 796h1v33h-1zM1725 796h3v33h-3zM1535 796h2v38h-2zM1518 801h1v28h-1zM1520 801h4v33h-4zM1526 801h5v33h-5zM1532 801h1v33h-1zM1524 801h2v37h-2z" fill="#00f" shape-rendering="crispEdges"/><g font-size="11.00" text-anchor="middle" fill="#000"><text x="1378.0" y="861">11/19</text><text x="1378.0" y="873">00:00</text><text x="1421.8" y="861">11/19</text><text x="1421.8" y="873">03:00</text><text x="1465.5" y="861">11/19</text><text x="1465.5" y="873">06:00</text><text x="1509.2" y="861">11/19</text><text x="1509.2" y="873">09:00</text><text x="1553.0" y="861">11/19</text><text x="1553.0" y="873">12:00</text><text x="1596.8" y="861">11/19</text><text x="1596.8" y="873">15:00</text><text x="1640.5" y="861">11/19</text><text x="1640.5" y="873">18:00</text><text x="1684.2" y="861">11/19</text><text x="1684.2" y="873">21:00</text><text x="1728.0" y="861">11/20</text><text x="1728.0" y="873">00:00</text></g><g font-size="13.00" text-anchor="end" fill="#000" clip-path="url(#cp3)"><text x="1377.1" y="735.9">25</text><text x="1377.1" y="759.1">24.5</text><text x="1377.1" y="782.3">24</text><text x="1377.1" y="805.5">23.5</text><text x="1377.1" y="828.7">23</text><text x="1377.1" y="852.0">22.5</text></g><text transform="translate(1359.3 710.3) rotate(-90) scale(1 1.07)" font-size="13.20" text-anchor="end" fill="#000">degC</text><rect x="1730" y="710" width="56" height="140" fill="#0f0" shape-rendering="crispEdges"/><g font-size="10.72" font-weight="bold" text-anchor="middle" fill="#000"><text x="1757.8" y="748.8">T_IN_V0</text><text x="1757.8" y="819.2">23.5 degC</text></g></g>
<g><path d="M75.5 885V1025M119.5 885V1025M162.5 885V1025M206.5 885V1025M250.5 885V1025M294.5 885V1025M337.5 885V1025" stroke="#000" stroke-width="1" stroke-dasharray="1 2" fill="none" shape-rendering="crispEdges"/><path d="M31 897.5H381M31 942.5H381M31 987.5H381" stroke="#000" stroke-width="1" stroke-dasharray="1 2" fill="none" shape-rendering="crispEdges"/><path d="M31.5 1020V1025M46.5 1023V1025M60.5 1023V1025M75.5 1020V1025M89.5 1023V1025M104.5 1023V1025M119.5 1020V1025M133.5 1023V1025M148.5 1023V1025M162.5 1020V1025M177.5 1023V1025M191.5 1023V1025M206.5 1020V1025M221.5 1023V1025M235.5 1023V1025M250.5 1020V1025M264.5 1023V1025M279.5 1023V1025M294.5 1020V1025M308.5 1023V1025M323.5 1023V1025M337.5 1020V1025M352.5 1023V1025M366.5 1023V1025M381.5 1020V1025M32 897.5H44M32 942.5H44M32 987.5H44M32 1023.5H37M32 1014.5H37M32 1005.5H37M32 996.5H37M32 978.5H37M32 969.5H37M32 960.5H37M32 951.5H37M32 933.5H37M32 924.5H37M32 915.5H37M32 906.5H37M32 888.5H37" stroke="#000" stroke-width="1" fill="none" shape-rendering="crispEdges"/><rect x="31.5" y="885.5" width="350" height="140" fill="none" stroke="#000" stroke-width="1" shape-rendering="crispEdges"/><path d="M281 898h16v18h-16zM272 906h10v10h-10zM296 906h6v10h-6zM262 916h12v8h-12zM298 916h1v8h-1zM301 916h9v8h-9zM257 916h6v18h-6zM310 916h4v18h-4zM264 924h1v10h-1zM248 924h10v18h-10zM313 924h15v18h-15zM247 934h2v8h-2zM335 934h1v8h-1zM243 934h5v18h-5zM327 934h7v18h-7zM237 942h7v10h-7zM333 942h14v10h-14zM31 942h6v18h-6zM233 942h5v18h-5zM37 952h11v8h-11zM59 952h1v8h-1zM226 952h8v8h-8zM337 952h5v8h-5zM341 952h17v8h-17zM360 952h1v8h-1zM48 952h10v18h-10zM79 960h1v10h-1zM225 960h4v10h-4zM346 960h1v10h-1zM351 960h1v10h-1zM355 960h5v10h-5zM58 960h20v18h-20zM216 960h9v18h-9zM360 960h13v18h-13zM53 970h1v8h-1zM78 970h9v8h-9zM88 970h1v8h-1zM90 970h1v8h-1zM212 970h5v8h-5zM356 970h1v8h-1zM372 970h8v8h-8zM380 970h2v18h-2zM86 978h12v10h-12zM124 978h1v10h-1zM126 978h1v10h-1zM208 978h4v10h-4zM98 978h22v18h-22zM201 978h8v18h-8zM120 978h3v26h-3zM138 988h1v8h-1zM196 988h1v8h-1zM122 988h12v16h-12zM197 988h5v16h-5zM133 996h10v8h-10zM186 996h12v8h-12zM142 996h20v18h-20zM166 996h21v18h-21zM162 1004h4v10h-4z" fill="#00f" shape-rendering="crispEdges"/><g font-size="11.00" text-anchor="middle" fill="#000"><text x="31.0" y="1037">11/19</text><text x="31.0" y="1049">00:00</text><text x="74.8" y="1037">11/19</text><text x="74.8" y="1049">03:00</text><text x="118.5" y="1037">11/19</text><text x="118.5" y="1049">06:00</text><text x="162.2" y="1037">11/19</text><text x="162.2" y="1049">09:00</text><text x="206.0" y="1037">11/19</text><text x="206.0" y="1049">12:00</text><text x="249.8" y="1037">11/19</text><text x="249.8" y="1049">15:00</text><text x="293.5" y="1037">11/19</text><text x="293.5" y="1049">18:00</text><text x="337.2" y="1037">11/19</text><text x="337.2" y="1049">21:00</text><text x="381.0" y="1037">11/20</text><text x="381.0" y="1049">00:00</text></g><g font-size="13.00" text-anchor="end" fill="#000" clip-path="url(#cp0)"><text x="30.1" y="902.0">22</text><text x="30.1" y="947.0">21.5</text><text x="30.1" y="992.0">21</text></g><text transform="translate(12.3 885.3) rotate(-90) scale(1 1.07)" font-size="13.20" text-anchor="end" fill="#000">degC</text><rect x="383" y="885" width="56" height="140" fill="#0f0" shape-rendering="crispEdges"/><g font-size="5.96" font-weight="bold" text-anchor="middle" fill="#000"><text x="410.8" y="922.1">T_HP180L_PT100</text><text x="410.8" y="992.8">21.1 degC</text></g></g>
<g><path d="M524.5 885V1025M568.5 885V1025M611.5 885V1025M655.5 885V1025M699.5 885V1025M743.5 885V1025M786.5 885V1025" stroke="#000" stroke-width="1" stroke-dasharray="1 2" fill="none" shape-rendering="crispEdges"/><path d="M480 914.5H830M480 949.5H830M480 984.5H830M480 1018.5H830" stroke="#000" stroke-width="1" stroke-dasharray="1 2" fill="none" shape-rendering="crispEdges"/><path d="M480.5 1020V1025M495.5 1023V1025M509.5 1023V1025M524.5 1020V1025M538.5 1023V1025M553.5 1023V1025M568.5 1020V1025M582.5 1023V1025M597.5 1023V1025M611.5 1020V1025M626.5 1023V1025M640.5 1023V1025M655.5 1020V1025M670.5 1023V1025M684.5 1023V1025M699.5 1020V1025M713.5 1023V1025M728.5 1023V1025M743.5 1020V1025M757.5 1023V1025M772.5 1023V1025M786.5 1020V1025M801.5 1023V1025M815.5 1023V1025M830.5 1020V1025M481 914.5H493M481 949.5H493M481 984.5H493M481 1018.5H493M481 1011.5H486M481 1004.5H486M481 997.5H486M481 990.5H486M481 977.5H486M481 970.5H486M481 963.5H486M481 956.5H486M481 942.5H486M481 935.5H486M481 928.5H486M481 921.5H486M481 907.5H486M481 900.5H486M481 893.5H486M481 886.5H486" stroke="#000" stroke-width="1" fill="none" shape-rendering="crispEdges"/><rect x="480.5" y="885.5" width="350" height="140" fill="none" stroke="#000" stroke-width="1" shape-rendering="crispEdges"/><path d="M482 897h1v92h-1zM726 897h1v92h-1zM728 897h1v92h-1zM736 897h1v92h-1zM739 897h1v92h-1zM491 897h2v96h-2zM502 897h1v96h-1zM505 897h1v96h-1zM725 897h1v96h-1zM480 900h2v89h-2zM483 900h2v89h-2zM486 900h2v89h-2zM503 900h2v89h-2zM520 900h1v89h-1zM722 900h1v89h-1zM727 900h1v89h-1zM729 900h1v89h-1zM731 900h1v89h-1zM733 900h3v89h-3zM737 900h2v89h-2zM741 900h3v89h-3zM488 900h1v92h-1zM732 900h1v92h-1zM740 900h1v92h-1zM489 900h2v93h-2zM493 900h1v93h-1zM495 900h4v93h-4zM500 900h2v93h-2zM506 900h3v93h-3zM511 900h1v93h-1zM720 900h2v93h-2zM723 900h2v93h-2zM744 900h3v93h-3zM752 900h1v93h-1zM494 900h1v96h-1zM716 900h1v96h-1zM719 900h1v96h-1zM485 904h1v85h-1zM730 904h1v85h-1zM747 904h1v85h-1zM750 904h1v85h-1zM499 904h1v89h-1zM509 904h2v89h-2zM512 904h2v89h-2zM515 904h5v89h-5zM521 904h3v89h-3zM704 904h4v89h-4zM709 904h4v89h-4zM714 904h1v89h-1zM717 904h2v89h-2zM748 904h2v89h-2zM751 904h1v89h-1zM753 904h2v89h-2zM514 904h1v92h-1zM691 904h1v92h-1zM695 904h1v92h-1zM697 904h1v92h-1zM708 904h1v92h-1zM713 904h1v92h-1zM715 904h1v92h-1zM531 904h1v96h-1zM526 908h1v84h-1zM766 908h1v84h-1zM702 908h2v85h-2zM524 908h2v88h-2zM527 908h4v88h-4zM532 908h3v88h-3zM536 908h1v88h-1zM684 908h7v88h-7zM692 908h3v88h-3zM698 908h1v88h-1zM700 908h2v88h-2zM755 908h1v88h-1zM758 908h1v88h-1zM760 908h1v88h-1zM762 908h4v88h-4zM767 908h5v88h-5zM535 908h1v92h-1zM679 908h1v92h-1zM681 908h3v92h-3zM696 908h1v92h-1zM699 908h1v92h-1zM757 908h1v92h-1zM759 908h1v92h-1zM772 908h1v92h-1zM540 908h1v95h-1zM680 908h1v95h-1zM786 908h1v96h-1zM561 908h1v99h-1zM537 911h1v85h-1zM552 911h1v85h-1zM780 911h1v85h-1zM539 911h1v89h-1zM541 911h3v89h-3zM545 911h5v89h-5zM551 911h1v89h-1zM553 911h1v89h-1zM560 911h1v89h-1zM675 911h3v89h-3zM774 911h4v89h-4zM779 911h1v89h-1zM781 911h3v89h-3zM544 911h1v92h-1zM550 911h1v92h-1zM678 911h1v92h-1zM773 911h1v92h-1zM554 911h1v93h-1zM556 911h4v93h-4zM784 911h1v93h-1zM785 911h1v96h-1zM787 911h1v96h-1zM756 912h1v81h-1zM761 912h1v84h-1zM573 912h1v92h-1zM789 912h1v92h-1zM800 912h1v92h-1zM562 912h1v95h-1zM538 914h1v82h-1zM778 914h1v86h-1zM555 914h1v90h-1zM572 915h1v85h-1zM672 915h3v85h-3zM795 915h1v85h-1zM563 915h1v89h-1zM565 915h7v89h-7zM574 915h1v89h-1zM576 915h3v89h-3zM662 915h7v89h-7zM670 915h2v89h-2zM788 915h1v89h-1zM790 915h5v89h-5zM796 915h3v89h-3zM801 915h6v89h-6zM669 915h1v92h-1zM799 915h1v92h-1zM579 916h1v90h-1zM608 916h1v90h-1zM656 916h1v90h-1zM813 916h1v90h-1zM816 916h2v90h-2zM810 916h1v91h-1zM815 919h1v84h-1zM659 919h3v85h-3zM807 919h1v85h-1zM809 919h1v85h-1zM811 919h1v85h-1zM580 919h5v87h-5zM586 919h1v87h-1zM588 919h1v87h-1zM591 919h10v87h-10zM602 919h6v87h-6zM609 919h1v87h-1zM611 919h1v87h-1zM647 919h1v87h-1zM649 919h1v87h-1zM654 919h2v87h-2zM812 919h1v87h-1zM814 919h1v87h-1zM818 919h4v87h-4zM824 919h1v87h-1zM826 919h1v87h-1zM564 919h1v88h-1zM575 919h1v88h-1zM808 919h1v88h-1zM585 919h1v91h-1zM587 919h1v91h-1zM589 919h1v91h-1zM610 919h1v91h-1zM612 919h1v91h-1zM626 919h1v91h-1zM651 919h2v91h-2zM658 919h1v91h-1zM828 919h1v95h-1zM590 922h1v84h-1zM601 922h1v84h-1zM648 922h1v84h-1zM653 922h1v84h-1zM822 922h2v84h-2zM825 922h1v84h-1zM630 922h1v85h-1zM829 922h1v85h-1zM613 922h13v88h-13zM627 922h3v88h-3zM632 922h15v88h-15zM650 922h1v88h-1zM657 922h1v88h-1zM827 922h1v88h-1zM830 922h1v88h-1zM631 926h1v88h-1z" fill="#00f" shape-rendering="crispEdges"/><g font-size="11.00" text-anchor="middle" fill="#000"><text x="480.0" y="1037">11/19</text><text x="480.0" y="1049">00:00</text><text x="523.8" y="1037">11/19</text><text x="523.8" y="1049">03:00</text><text x="567.5" y="1037">11/19</text><text x="567.5" y="1049">06:00</text><text x="611.2" y="1037">11/19</text><text x="611.2" y="1049">09:00</text><text x="655.0" y="1037">11/19</text><text x="655.0" y="1049">12:00</text><text x="698.8" y="1037">11/19</text><text x="698.8" y="1049">15:00</text><text x="742.5" y="1037">11/19</text><text x="742.5" y="1049">18:00</text><text x="786.2" y="1037">11/19</text><text x="786.2" y="1049">21:00</text><text x="830.0" y="1037">11/20</text><text x="830.0" y="1049">00:00</text></g><g font-size="13.00" text-anchor="end" fill="#000" clip-path="url(#cp1)"><text x="479.1" y="919.2">6.05</text><text x="479.1" y="953.8">6</text><text x="479.1" y="988.5">5.95</text><text x="479.1" y="1023.2">5.9</text></g><text transform="translate(463.0 885.3) rotate(-90) scale(1 1.07)" font-size="13.20" text-anchor="end" fill="#000">bar</text><rect x="832" y="885" width="56" height="140" fill="#0f0" shape-rendering="crispEdges"/><g font-size="11.74" font-weight="bold" text-anchor="middle" fill="#000"><text x="859.8" y="924.2">P_pump</text><text x="859.8" y="995.2">6.006 bar</text></g></g>
<g><path d="M973.5 885V1025M1017.5 885V1025M1060.5 885V1025M1104.5 885V1025M1148.5 885V1025M1192.5 885V1025M1235.5 885V1025" stroke="#000" stroke-width="1" stroke-dasharray="1 2" fill="none" shape-rendering="crispEdges"/><path d="M929 904.5H1279M929 941.5H1279M929 978.5H1279M929 1015.5H1279" stroke="#000" stroke-width="1" stroke-dasharray="1 2" fill="none" shape-rendering="crispEdges"/><path d="M929.5 1020V1025M944.5 1023V1025M958.5 1023V1025M973.5 1020V1025M987.5 1023V1025M1002.5 1023V1025M1017.5 1020V1025M1031.5 1023V1025M1046.5 1023V1025M1060.5 1020V1025M1075.5 1023V1025M1089.5 1023V1025M1104.5 1020V1025M1119.5 1023V1025M1133.5 1023V1025M1148.5 1020V1025M1162.5 1023V1025M1177.5 1023V1025M1192.5 1020V1025M1206.5 1023V1025M1221.5 1023V1025M1235.5 1020V1025M1250.5 1023V1025M1264.5 1023V1025M1279.5 1020V1025M930 904.5H942M930 941.5H942M930 978.5H942M930 1015.5H942M930 1022.5H935M930 1008.5H935M930 1000.5H935M930 993.5H935M930 985.5H935M930 971.5H935M930 963.5H935M930 956.5H935M930 949.5H935M930 934.5H935M930 926.5H935M930 919.5H935M930 912.5H935M930 897.5H935M930 890.5H935" stroke="#000" stroke-width="1" fill="none" shape-rendering="crispEdges"/><rect x="929.5" y="885.5" width="350" height="140" fill="none" stroke="#000" stroke-width="1" shape-rendering="crispEdges"/><path d="M929 897h3v79h-3zM933 897h1v79h-1zM954 897h1v79h-1zM972 897h13v79h-13zM1016 897h1v79h-1zM1023 897h3v79h-3zM1074 897h1v79h-1zM1076 897h4v79h-4zM1087 897h5v79h-5zM1093 897h2v79h-2zM1125 897h22v79h-22zM1148 897h1v79h-1zM1151 897h3v79h-3zM1171 897h1v79h-1zM1175 897h4v79h-4zM1180 897h3v79h-3zM1184 897h1v79h-1zM1188 897h6v79h-6zM1198 897h16v79h-16zM1215 897h3v79h-3zM1219 897h4v79h-4zM1224 897h30v79h-30zM1255 897h25v79h-25zM932 917h1v59h-1zM934 936h2v40h-2zM939 936h1v40h-1zM955 936h5v40h-5zM961 936h1v40h-1zM971 936h1v40h-1zM985 936h4v40h-4zM990 936h2v40h-2zM1011 936h5v40h-5zM1017 936h6v40h-6zM1026 936h1v40h-1zM1070 936h4v40h-4zM1075 936h1v40h-1zM1080 936h7v40h-7zM1092 936h1v40h-1zM1095 936h3v40h-3zM1104 936h3v40h-3zM1108 936h3v40h-3zM1113 936h3v40h-3zM1117 936h1v40h-1zM1119 936h3v40h-3zM1124 936h1v40h-1zM1147 936h1v40h-1zM1149 936h2v40h-2zM1154 936h5v40h-5zM1162 936h1v40h-1zM1164 936h1v40h-1zM1169 936h2v40h-2zM1172 936h3v40h-3zM1179 936h1v40h-1zM1183 936h1v40h-1zM1185 936h3v40h-3zM1194 936h4v40h-4zM1214 936h1v40h-1zM1218 936h1v40h-1zM1223 936h1v40h-1zM1254 936h1v40h-1zM937 936h1v58h-1zM1112 936h1v58h-1zM936 936h1v78h-1zM938 936h1v78h-1zM940 936h14v78h-14zM960 936h1v78h-1zM962 936h9v78h-9zM989 936h1v78h-1zM992 936h19v78h-19zM1027 936h43v78h-43zM1098 936h6v78h-6zM1107 936h1v78h-1zM1111 936h1v78h-1zM1116 936h1v78h-1zM1118 936h1v78h-1zM1122 936h2v78h-2zM1159 936h3v78h-3zM1163 936h1v78h-1zM1165 936h4v78h-4z" fill="#00f" shape-rendering="crispEdges"/><g font-size="11.00" text-anchor="middle" fill="#000"><text x="929.0" y="1037">11/19</text><text x="929.0" y="1049">00:00</text><text x="972.8" y="1037">11/19</text><text x="972.8" y="1049">03:00</text><text x="1016.5" y="1037">11/19</text><text x="1016.5" y="1049">06:00</text><text x="1060.2" y="1037">11/19</text><text x="1060.2" y="1049">09:00</text><text x="1104.0" y="1037">11/19</text><text x="1104.0" y="1049">12:00</text><text x="1147.8" y="1037">11/19</text><text x="1147.8" y="1049">15:00</text><text x="1191.5" y="1037">11/19</text><text x="1191.5" y="1049">18:00</text><text x="1235.2" y="1037">11/19</text><text x="1235.2" y="1049">21:00</text><text x="1279.0" y="1037">11/20</text><text x="1279.0" y="1049">00:00</text></g><g font-size="13.00" text-anchor="end" fill="#000" clip-path="url(#cp2)"><text x="928.1" y="909.3">0.23</text><text x="928.1" y="946.2">0.225</text><text x="928.1" y="983.1">0.22</text><text x="928.1" y="1020.0">0.215</text></g><text transform="translate(912.0 885.3) rotate(-90) scale(1 1.07)" font-size="13.20" text-anchor="end" fill="#000">bar</text><rect x="1281" y="885" width="56" height="140" fill="#0f0" shape-rendering="crispEdges"/><g font-size="8.82" font-weight="bold" text-anchor="middle" fill="#000"><text x="1308.8" y="923.2">P_storage</text><text x="1308.8" y="994.2">0.22575 bar</text></g></g>
<g><path d="M1422.5 885V1025M1466.5 885V1025M1509.5 885V1025M1553.5 885V1025M1597.5 885V1025M1641.5 885V1025M1684.5 885V1025" stroke="#000" stroke-width="1" stroke-dasharray="1 2" fill="none" shape-rendering="crispEdges"/><path d="M1378 891.5H1728M1378 911.5H1728M1378 931.5H1728M1378 952.5H1728M1378 972.5H1728M1378 992.5H1728M1378 1012.5H1728" stroke="#000" stroke-width="1" stroke-dasharray="1 2" fill="none" shape-rendering="crispEdges"/><path d="M1378.5 1020V1025M1393.5 1023V1025M1407.5 1023V1025M1422.5 1020V1025M1436.5 1023V1025M1451.5 1023V1025M1466.5 1020V1025M1480.5 1023V1025M1495.5 1023V1025M1509.5 1020V1025M1524.5 1023V1025M1538.5 1023V1025M1553.5 1020V1025M1568.5 1023V1025M1582.5 1023V1025M1597.5 1020V1025M1611.5 1023V1025M1626.5 1023V1025M1641.5 1020V1025M1655.5 1023V1025M1670.5 1023V1025M1684.5 1020V1025M1699.5 1023V1025M1713.5 1023V1025M1728.5 1020V1025M1379 891.5H1391M1379 911.5H1391M1379 931.5H1391M1379 952.5H1391M1379 972.5H1391M1379 992.5H1391M1379 1012.5H1391M1379 1024.5H1384M1379 1020.5H1384M1379 1016.5H1384M1379 1008.5H1384M1379 1004.5H1384M1379 1000.5H1384M1379 996.5H1384M1379 988.5H1384M1379 984.5H1384M1379 980.5H1384M1379 976.5H1384M1379 968.5H1384M1379 964.5H1384M1379 960.5H1384M1379 956.5H1384M1379 948.5H1384M1379 944.5H1384M1379 940.5H1384M1379 936.5H1384M1379 927.5H1384M1379 923.5H1384M1379 919.5H1384M1379 915.5H1384M1379 907.5H1384M1379 903.5H1384M1379 899.5H1384M1379 895.5H1384M1379 887.5H1384" stroke="#000" stroke-width="1" fill="none" shape-rendering="crispEdges"/><rect x="1378.5" y="885.5" width="350" height="140" fill="none" stroke="#000" stroke-width="1" shape-rendering="crispEdges"/><path d="M1643 898h2v6h-2zM1656 898h1v6h-1zM1673 898h1v6h-1zM1683 898h2v6h-2zM1689 898h1v6h-1zM1691 898h1v6h-1zM1701 898h1v6h-1zM1705 898h1v6h-1zM1709 898h1v6h-1zM1721 898h1v6h-1zM1605 900h2v4h-2zM1608 900h1v4h-1zM1610 900h3v4h-3zM1614 900h29v4h-29zM1645 900h11v4h-11zM1657 900h16v4h-16zM1674 900h9v4h-9zM1685 900h4v4h-4zM1690 900h1v4h-1zM1692 900h9v4h-9zM1702 900h3v4h-3zM1706 900h3v4h-3zM1710 900h11v4h-11zM1722 900h7v4h-7zM1607 900h1v6h-1zM1609 900h1v6h-1zM1613 900h1v6h-1zM1604 900h1v7h-1zM1624 901h1v113h-1zM1577 903h5v4h-5zM1594 903h10v4h-10zM1576 903h1v6h-1zM1582 903h1v7h-1zM1593 903h1v7h-1zM1575 905h1v5h-1zM1583 906h10v4h-10zM1574 906h1v6h-1zM1573 908h1v6h-1zM1572 910h1v6h-1zM1571 912h1v7h-1zM1570 913h1v7h-1zM1566 914h2v6h-2zM1563 916h3v4h-3zM1568 916h2v4h-2zM1562 916h1v6h-1zM1561 918h1v10h-1zM1560 924h1v6h-1zM1558 926h2v4h-2zM1557 926h1v5h-1zM1556 927h1v8h-1zM1555 931h1v9h-1zM1554 936h1v10h-1zM1553 942h1v10h-1zM1549 948h4v4h-4zM1548 948h1v5h-1zM1547 949h1v15h-1zM1546 960h1v18h-1zM1545 974h1v20h-1zM1544 990h1v14h-1zM1379 1000h1v4h-1zM1381 1000h1v4h-1zM1383 1000h1v4h-1zM1386 1000h2v4h-2zM1391 1000h1v4h-1zM1393 1000h1v4h-1zM1395 1000h2v4h-2zM1398 1000h1v4h-1zM1402 1000h2v4h-2zM1406 1000h3v4h-3zM1411 1000h3v4h-3zM1415 1000h5v4h-5zM1423 1000h1v4h-1zM1425 1000h4v4h-4zM1431 1000h1v4h-1zM1434 1000h7v4h-7zM1443 1000h2v4h-2zM1448 1000h2v4h-2zM1452 1000h6v4h-6zM1461 1000h2v4h-2zM1464 1000h7v4h-7zM1472 1000h1v4h-1zM1474 1000h2v4h-2zM1477 1000h5v4h-5zM1483 1000h4v4h-4zM1489 1000h1v4h-1zM1493 1000h3v4h-3zM1498 1000h1v4h-1zM1501 1000h6v4h-6zM1510 1000h3v4h-3zM1516 1000h1v4h-1zM1520 1000h3v4h-3zM1525 1000h3v4h-3zM1529 1000h1v4h-1zM1531 1000h7v4h-7zM1539 1000h5v4h-5zM1378 1000h1v7h-1zM1380 1000h1v7h-1zM1382 1000h1v7h-1zM1384 1000h2v7h-2zM1388 1000h3v7h-3zM1392 1000h1v7h-1zM1394 1000h1v7h-1zM1397 1000h1v7h-1zM1399 1000h3v7h-3zM1404 1000h2v7h-2zM1409 1000h2v7h-2zM1414 1000h1v7h-1zM1420 1000h3v7h-3zM1424 1000h1v7h-1zM1429 1000h2v7h-2zM1432 1000h2v7h-2zM1441 1000h2v7h-2zM1445 1000h3v7h-3zM1450 1000h2v7h-2zM1458 1000h3v7h-3zM1463 1000h1v7h-1zM1471 1000h1v7h-1zM1473 1000h1v7h-1zM1476 1000h1v7h-1zM1482 1000h1v7h-1zM1487 1000h2v7h-2zM1490 1000h3v7h-3zM1496 1000h2v7h-2zM1499 1000h2v7h-2zM1507 1000h3v7h-3zM1513 1000h3v7h-3zM1517 1000h3v7h-3zM1523 1000h2v7h-2zM1528 1000h1v7h-1zM1530 1000h1v7h-1zM1538 1000h1v7h-1z" fill="#00f" shape-rendering="crispEdges"/><g font-size="11.00" text-anchor="middle" fill="#000"><text x="1378.0" y="1037">11/19</text><text x="1378.0" y="1049">00:00</text><text x="1421.8" y="1037">11/19</text><text x="1421.8" y="1049">03:00</text><text x="1465.5" y="1037">11/19</text><text x="1465.5" y="1049">06:00</text><text x="1509.2" y="1037">11/19</text><text x="1509.2" y="1049">09:00</text><text x="1553.0" y="1037">11/19</text><text x="1553.0" y="1049">12:00</text><text x="1596.8" y="1037">11/19</text><text x="1596.8" y="1049">15:00</text><text x="1640.5" y="1037">11/19</text><text x="1640.5" y="1049">18:00</text><text x="1684.2" y="1037">11/19</text><text x="1684.2" y="1049">21:00</text><text x="1728.0" y="1037">11/20</text><text x="1728.0" y="1049">00:00</text></g><g font-size="13.00" text-anchor="end" fill="#000" clip-path="url(#cp3)"><text x="1377.1" y="896.2">30</text><text x="1377.1" y="916.3">25</text><text x="1377.1" y="936.5">20</text><text x="1377.1" y="956.6">15</text><text x="1377.1" y="976.8">10</text><text x="1377.1" y="997.0">5</text><text x="1377.1" y="1017.1">0</text></g><text transform="translate(1361.0 885.3) rotate(-90) scale(1 1.07)" font-size="13.20" text-anchor="end" fill="#000">kV</text><rect x="1730" y="885" width="56" height="140" fill="#0f0" shape-rendering="crispEdges"/><g font-size="9.74" font-weight="bold" text-anchor="middle" fill="#000"><text x="1757.8" y="923.5">V_CW</text><text x="1757.8" y="994.5">28.0134 kV</text></g></g>
</svg></body></html>
